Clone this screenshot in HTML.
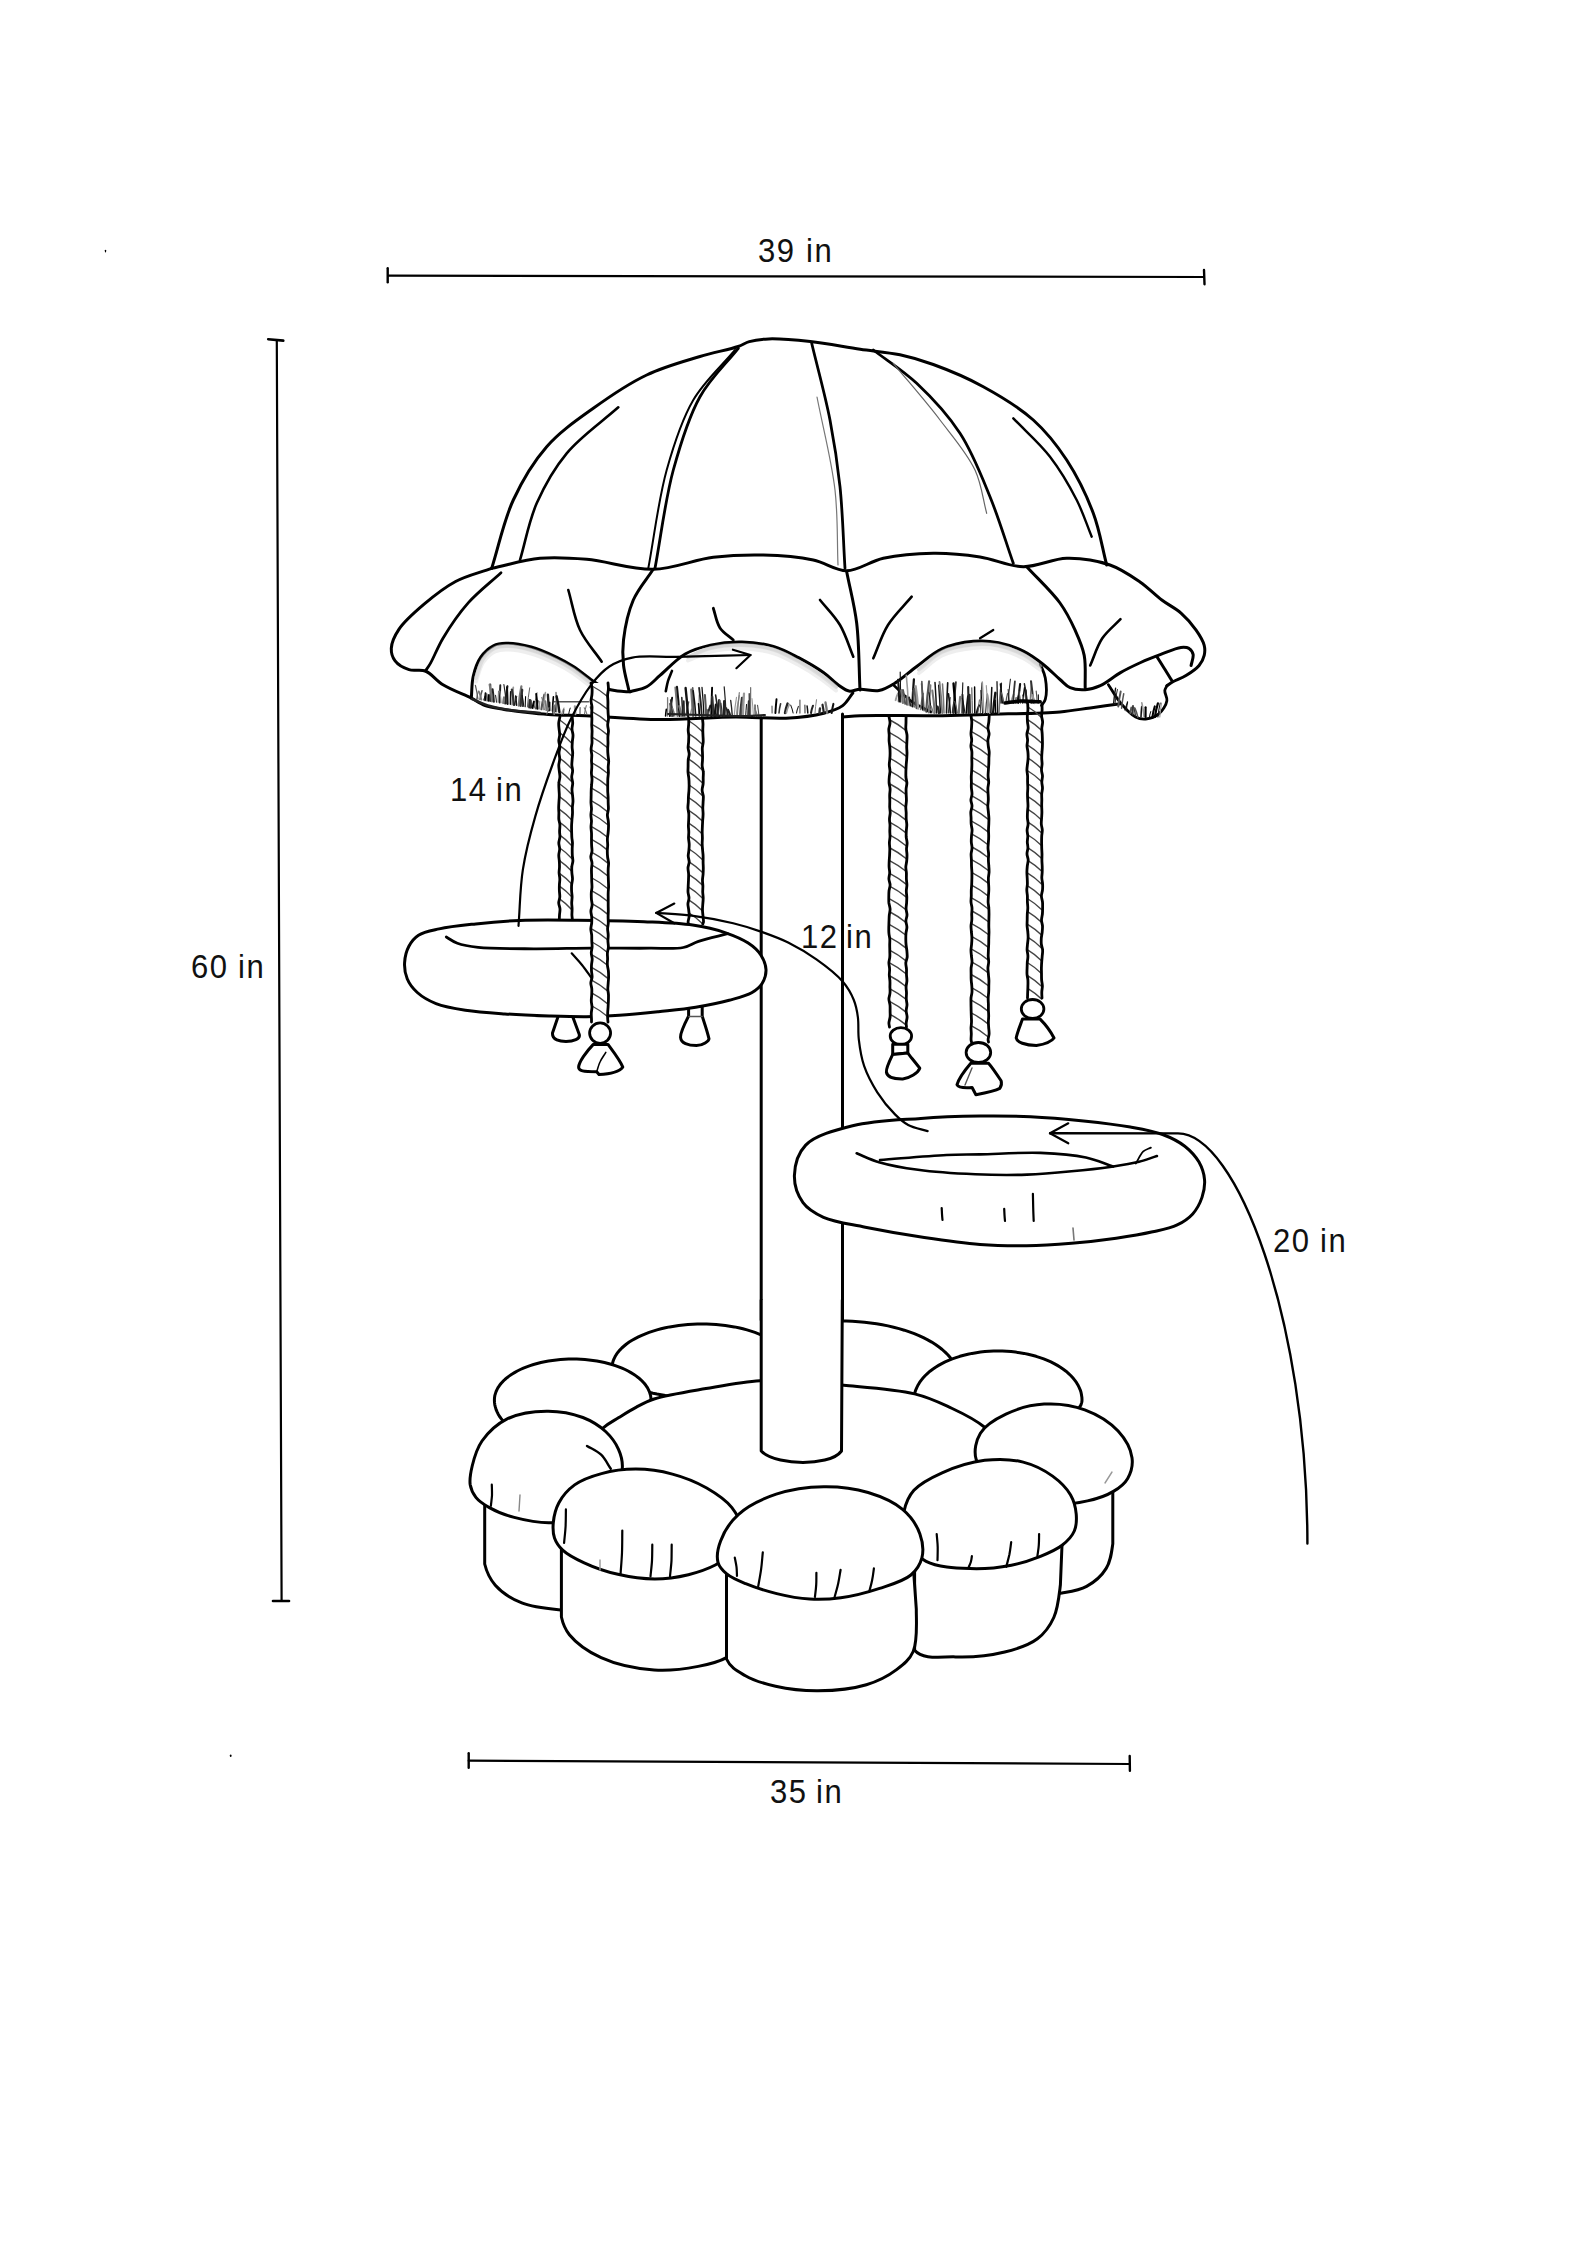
<!DOCTYPE html>
<html><head><meta charset="utf-8"><style>
html,body{margin:0;padding:0;background:#fff;}
body{width:1587px;height:2245px;position:relative;overflow:hidden;}
svg{position:absolute;left:0;top:0;}
.t{position:absolute;font-family:"Liberation Sans",sans-serif;color:#111;white-space:nowrap;line-height:1;}
</style></head><body>
<svg width="1587" height="2245" viewBox="0 0 1587 2245" stroke-linecap="round" stroke-linejoin="round">
<path d="M388.0,275.7 L1204.0,277.0" stroke="#000" stroke-width="2.2" fill="none"/>
<path d="M387.7,268.3 L387.7,282.3" stroke="#000" stroke-width="2.4" fill="none"/>
<path d="M1204.0,270.0 L1204.5,284.3" stroke="#000" stroke-width="2.4" fill="none"/>
<path d="M276.8,340.5 L281.6,1601.0" stroke="#000" stroke-width="2.2" fill="none"/>
<path d="M268.2,339.2 L283.3,340.6" stroke="#000" stroke-width="2.6" fill="none"/>
<path d="M273.0,1601.0 L289.0,1601.0" stroke="#000" stroke-width="2.6" fill="none"/>
<path d="M468.7,1760.7 L1129.7,1764.0" stroke="#000" stroke-width="2.2" fill="none"/>
<path d="M468.7,1753.3 L468.7,1767.7" stroke="#000" stroke-width="2.4" fill="none"/>
<path d="M1129.7,1756.0 L1129.9,1770.7" stroke="#000" stroke-width="2.4" fill="none"/>
<path d="M105.5,250.3 L105.5,251.8" stroke="#000" stroke-width="1.2" fill="none"/>
<path d="M230.7,1755.2 L230.7,1756.2" stroke="#000" stroke-width="1.6" fill="none"/>
<path d="M491.7,568.3C498.9,545.5 503.7,520.8 513.3,500.0C522.3,480.5 533.2,462.1 546.7,446.7C559.9,431.6 576.8,420.1 593.3,408.3C610.1,396.2 628.4,383.7 646.7,375.0C664.0,366.7 683.6,361.5 700.0,356.5C713.7,352.3 729.4,349.6 738.2,346.5C743.1,344.8 745.0,342.8 749.3,341.6C754.8,340.0 761.0,339.2 768.7,338.9C779.9,338.5 795.8,340.0 810.3,341.6C826.2,343.3 844.5,347.0 860.2,349.3C874.2,351.3 887.4,352.1 900.0,354.8C911.7,357.3 921.2,360.1 933.3,364.5C948.4,370.0 967.0,377.7 983.3,386.7C1000.4,396.1 1019.1,407.2 1033.3,420.0C1046.6,431.9 1056.9,445.1 1066.7,460.0C1077.1,476.0 1086.6,495.3 1093.3,513.3C1099.7,530.3 1102.2,547.8 1106.7,565.0" stroke="#000" stroke-width="3" fill="none"/>
<path d="M618.3,407.3C601.1,422.6 580.6,436.5 566.7,453.3C553.9,468.7 544.5,485.6 536.7,503.3C528.9,521.1 525.6,541.1 520.0,560.0" stroke="#000" stroke-width="2.6" fill="none"/>
<path d="M735.0,350.0C721.1,366.7 704.5,380.9 693.3,400.0C681.3,420.5 673.9,444.3 666.7,470.0C658.4,499.7 654.4,535.5 648.3,568.3" stroke="#000" stroke-width="2.0" fill="none"/>
<path d="M738.3,348.3C725.5,364.4 710.5,377.9 700.0,396.7C688.2,417.8 680.6,443.5 673.3,470.0C665.1,500.1 661.1,535.5 655.0,568.3" stroke="#000" stroke-width="2.8" fill="none"/>
<path d="M811.7,343.3C817.8,368.9 825.2,395.2 830.0,420.0C834.4,442.9 837.5,463.3 840.0,486.7C842.7,512.5 843.3,541.1 845.0,568.3" stroke="#000" stroke-width="2.8" fill="none"/>
<path d="M817.0,397.0C823.0,428.0 831.6,460.5 835.0,490.0C838.0,516.2 837.0,540.0 838.0,565.0" stroke="#777" stroke-width="1.2" fill="none"/>
<path d="M873.3,350.0C887.8,361.1 902.9,370.3 916.7,383.3C931.9,397.6 947.9,414.7 960.0,433.3C972.5,452.4 981.1,475.1 990.0,496.7C998.9,518.4 1005.5,541.1 1013.3,563.3" stroke="#000" stroke-width="2.8" fill="none"/>
<path d="M893.3,363.3C908.9,382.2 925.9,401.4 940.0,420.0C952.9,436.9 967.2,453.2 975.0,470.0C981.7,484.4 982.8,498.9 986.7,513.3" stroke="#666" stroke-width="1.2" fill="none"/>
<path d="M1013.3,418.3C1025.5,431.1 1039.4,442.9 1050.0,456.7C1060.4,470.2 1069.5,485.9 1076.7,500.0C1083.0,512.5 1086.7,524.5 1091.7,536.7" stroke="#000" stroke-width="2.4" fill="none"/>
<path d="M491.7,568.3C507.8,565.0 524.0,559.8 540.0,558.3C555.6,556.9 569.8,557.9 586.7,559.3C607.0,561.0 631.7,569.8 653.3,569.3C673.9,568.8 694.1,559.6 713.3,557.3C730.6,555.2 746.6,554.6 763.3,555.0C780.0,555.4 798.5,556.9 813.3,560.0C825.7,562.6 835.3,570.8 846.7,570.7C858.6,570.6 870.0,561.2 883.3,558.3C898.5,555.0 916.9,553.5 933.3,553.3C949.1,553.1 964.8,554.7 980.0,557.0C994.8,559.2 1008.8,566.5 1023.3,566.7C1037.7,566.9 1052.2,558.6 1066.7,558.3C1081.1,558.0 1097.2,560.6 1110.0,565.0C1121.3,568.9 1131.0,575.8 1140.0,582.0C1148.1,587.6 1154.6,594.6 1161.8,600.0C1168.3,604.9 1175.3,608.0 1181.0,613.1C1186.7,618.1 1192.1,624.4 1196.1,630.2C1199.6,635.2 1203.0,640.7 1204.2,645.4C1205.1,649.0 1205.0,652.1 1204.2,655.4C1203.4,658.9 1201.7,662.4 1199.1,665.5C1196.0,669.3 1190.5,672.8 1186.0,675.6C1181.8,678.2 1176.4,679.8 1172.9,681.7C1170.5,683.1 1168.9,684.4 1166.9,685.7" stroke="#000" stroke-width="3" fill="none"/>
<path d="M491.7,568.3C479.7,572.7 466.8,575.5 455.6,581.5C444.3,587.5 433.7,596.0 424.1,604.2C414.9,612.0 404.4,621.0 398.9,629.4C394.7,635.7 391.6,642.6 391.3,648.3C391.1,652.9 392.5,657.4 395.1,660.9C398.0,664.8 403.9,668.0 409.0,669.7C414.0,671.4 420.1,668.9 425.4,671.0C431.5,673.4 436.2,680.6 443.0,684.8C451.1,689.8 461.9,693.6 471.3,698.0" stroke="#000" stroke-width="3" fill="none"/>
<path d="M501.0,572.7C490.1,582.8 477.9,591.9 468.2,602.9C458.6,613.8 449.6,627.2 443.0,638.2C437.7,647.1 433.8,657.5 430.4,663.4C428.5,666.7 427.1,668.5 425.4,671.0" stroke="#000" stroke-width="2.8" fill="none"/>
<path d="M471.3,698.0C472.0,690.7 471.6,682.9 473.3,676.0C474.9,669.3 477.2,662.3 480.8,657.1C484.1,652.4 488.9,648.1 493.4,645.8C497.3,643.8 501.1,643.4 506.0,643.3C512.9,643.1 522.9,644.8 531.2,647.0C539.7,649.3 548.9,653.6 556.4,657.1C562.7,660.1 567.7,662.9 573.4,666.5C579.7,670.5 586.6,676.6 592.3,680.4C596.8,683.4 600.6,686.2 604.9,688.0C609.0,689.7 613.3,690.5 617.5,691.1C621.7,691.7 625.9,691.6 630.1,691.8" stroke="#000" stroke-width="3" fill="none"/>
<path d="M653.3,569.3C646.6,579.5 638.2,588.6 633.3,600.0C628.1,612.1 624.9,628.1 623.5,640.0C622.4,649.2 622.6,656.7 623.5,665.0C624.4,673.5 627.1,682.0 628.9,690.5" stroke="#000" stroke-width="3" fill="none"/>
<path d="M630.1,691.8C635.6,690.1 641.7,689.4 646.7,686.7C651.7,684.0 654.9,679.8 660.0,675.4C667.1,669.4 676.3,659.1 685.2,654.0C693.2,649.4 701.4,647.1 710.4,645.1C720.2,642.9 731.4,641.8 741.9,642.0C752.4,642.2 763.7,643.6 773.4,646.4C782.5,649.0 790.3,653.4 798.6,657.7C807.1,662.2 816.6,667.7 823.8,672.8C829.7,677.0 834.3,682.3 839.0,685.5C842.6,688.0 845.5,690.5 849.0,691.1C852.5,691.7 855.8,689.4 860.0,689.2C865.4,688.9 873.0,691.6 878.9,690.5C884.7,689.4 889.7,686.3 895.3,682.9C902.2,678.7 909.2,672.0 916.7,666.5C924.7,660.6 932.6,653.1 941.9,648.9C951.4,644.6 963.4,642.2 973.4,641.3C982.2,640.5 990.3,641.0 998.6,642.6C1007.1,644.3 1016.2,647.6 1023.8,651.4C1030.8,654.9 1036.7,659.3 1042.7,664.0C1048.8,668.7 1055.0,675.2 1060.0,679.5C1063.8,682.7 1066.1,686.0 1070.1,687.7C1074.4,689.6 1080.2,690.0 1085.2,689.7C1090.3,689.4 1095.1,688.0 1100.3,685.7C1106.8,682.8 1113.7,676.5 1120.5,672.6C1127.1,668.8 1133.9,665.6 1140.7,662.5C1147.3,659.5 1154.1,656.9 1160.8,654.4C1167.5,651.9 1175.7,648.0 1181.0,647.4C1184.2,647.1 1187.0,647.2 1189.0,648.4C1190.9,649.6 1192.6,652.0 1193.1,654.4C1193.7,657.4 1191.8,661.8 1191.1,665.5" stroke="#000" stroke-width="3" fill="none"/>
<path d="M846.7,571.7C850.0,588.9 854.5,604.9 856.7,623.3C859.2,644.0 858.9,667.8 860.0,690.0" stroke="#000" stroke-width="3" fill="none"/>
<path d="M1026.7,566.7C1037.8,578.8 1051.6,591.3 1060.0,603.0C1066.7,612.3 1071.0,621.1 1075.1,630.2C1078.9,638.6 1082.5,646.3 1084.2,655.4C1086.1,665.4 1084.9,676.9 1085.2,687.7" stroke="#000" stroke-width="3" fill="none"/>
<path d="M568.3,590.0C572.2,603.3 574.2,617.9 580.0,630.0C585.5,641.7 594.5,651.1 601.7,661.7" stroke="#000" stroke-width="2.6" fill="none"/>
<path d="M713.3,608.3C715.5,614.9 716.4,622.6 720.0,628.0C723.3,633.0 728.9,636.0 733.3,640.0" stroke="#000" stroke-width="2.8" fill="none"/>
<path d="M820.0,600.0C826.7,608.3 834.5,615.8 840.0,625.0C845.7,634.6 848.9,646.1 853.3,656.7" stroke="#000" stroke-width="2.6" fill="none"/>
<path d="M911.7,596.7C903.8,606.1 894.4,614.7 888.0,625.0C881.6,635.2 878.2,647.2 873.3,658.3" stroke="#000" stroke-width="2.6" fill="none"/>
<path d="M993.3,630.0L980.0,638.3" stroke="#000" stroke-width="2.2" fill="none"/>
<path d="M1120.5,619.2C1114.4,625.6 1107.3,630.9 1102.3,638.3C1097.0,646.2 1094.2,656.4 1090.2,665.5" stroke="#000" stroke-width="2.6" fill="none"/>
<path d="M672.0,670.9C670.7,674.3 669.0,677.6 668.0,681.0C667.0,684.4 666.5,687.8 665.8,691.2" stroke="#000" stroke-width="2.6" fill="none"/>
<path d="M894.0,685.5C899.5,690.5 904.4,696.2 910.4,700.6C916.5,705.1 923.9,708.1 930.6,711.9" stroke="#000" stroke-width="2.6" fill="none"/>
<path d="M1040.2,664.0C1041.9,668.6 1044.4,672.7 1045.3,677.9C1046.4,684.2 1046.7,694.4 1045.3,699.3C1044.5,702.2 1042.8,703.5 1041.5,705.6" stroke="#000" stroke-width="2.8" fill="none"/>
<path d="M1156.8,656.5C1159.2,660.3 1161.5,664.1 1164.0,668.0C1166.6,672.1 1169.3,676.5 1171.9,680.7" stroke="#000" stroke-width="3" fill="none"/>
<path d="M1108.4,684.7C1112.4,690.7 1115.9,697.4 1120.5,702.8C1125.0,708.1 1130.7,714.5 1135.6,717.0C1139.0,718.8 1142.2,719.3 1145.7,719.0C1149.8,718.6 1155.3,716.8 1158.8,713.9C1162.5,710.9 1166.2,705.0 1166.9,700.8C1167.5,697.3 1164.5,693.4 1164.8,690.7C1165.0,688.7 1166.2,687.4 1166.9,685.7" stroke="#000" stroke-width="2.8" fill="none"/>
<path d="M471.3,698.0C475.9,700.5 480.1,703.7 485.2,705.6C490.9,707.7 497.8,708.3 504.1,709.4C510.4,710.4 516.2,711.1 523.0,711.9C530.8,712.8 538.9,713.8 548.2,714.4C559.5,715.2 571.3,715.1 586.0,715.7C606.6,716.6 635.2,719.3 660.0,719.5C685.1,719.7 712.9,717.1 735.6,717.0C754.1,716.9 770.4,719.0 786.0,718.2C799.5,717.5 813.5,715.9 823.8,713.2C831.3,711.2 837.7,709.3 842.7,705.6C847.1,702.3 849.4,697.2 852.8,693.0" stroke="#000" stroke-width="3" fill="none"/>
<path d="M842.7,717.0C848.5,716.6 852.2,716.0 860.0,715.7C876.3,715.1 912.9,716.0 935.6,715.7C954.1,715.5 967.6,714.9 986.0,714.4C1008.3,713.7 1040.8,713.5 1060.0,711.9C1072.3,710.9 1080.1,709.2 1090.2,707.9C1100.3,706.5 1110.4,705.2 1120.5,703.8" stroke="#000" stroke-width="3" fill="none"/>
<path d="M554.5,701.8L588.5,701.8" stroke="#555" stroke-width="1.6" fill="none"/>
<path d="M476.0,678.0C478.3,671.7 479.5,664.2 483.0,659.0C486.1,654.4 490.8,650.1 495.0,648.0C498.5,646.3 501.6,646.0 506.0,646.0C512.6,645.9 522.8,647.7 531.0,650.0C539.5,652.3 548.6,656.5 556.0,660.0C562.3,663.0 567.5,665.9 573.0,669.5C578.8,673.3 584.3,678.2 590.0,682.5" stroke="#bdbdbd" stroke-width="4" fill="none" opacity="0.6"/>
<path d="M476.0,681.5C478.3,675.2 479.5,667.7 483.0,662.5C486.1,657.9 490.8,653.6 495.0,651.5C498.5,649.8 501.6,649.5 506.0,649.5C512.6,649.4 522.8,651.2 531.0,653.5C539.5,655.8 548.6,660.0 556.0,663.5C562.3,666.5 567.5,669.4 573.0,673.0C578.8,676.8 584.3,681.7 590.0,686.0" stroke="#e2e2e2" stroke-width="4" fill="none" opacity="0.6"/>
<path d="M688.0,657.0C695.7,654.0 702.6,650.0 711.0,648.0C720.4,645.7 731.7,644.8 742.0,645.0C752.3,645.2 763.4,646.7 773.0,649.5C782.0,652.2 789.9,656.6 798.0,661.0C806.2,665.4 815.2,671.2 822.0,676.0C827.4,679.8 831.3,683.3 836.0,687.0" stroke="#bdbdbd" stroke-width="4" fill="none" opacity="0.6"/>
<path d="M688.0,660.5C695.7,657.5 702.6,653.5 711.0,651.5C720.4,649.2 731.7,648.3 742.0,648.5C752.3,648.7 763.4,650.2 773.0,653.0C782.0,655.7 789.9,660.1 798.0,664.5C806.2,668.9 815.2,674.7 822.0,679.5C827.4,683.3 831.3,686.8 836.0,690.5" stroke="#e2e2e2" stroke-width="4" fill="none" opacity="0.6"/>
<path d="M919.0,669.5C926.7,663.7 933.3,656.1 942.0,652.0C951.2,647.6 963.2,645.5 973.0,644.5C981.7,643.6 989.8,643.9 998.0,645.5C1006.5,647.2 1015.7,650.8 1023.0,654.5C1029.4,657.8 1034.3,662.2 1040.0,666.0" stroke="#bdbdbd" stroke-width="4" fill="none" opacity="0.6"/>
<path d="M919.0,673.0C926.7,667.2 933.3,659.6 942.0,655.5C951.2,651.1 963.2,649.0 973.0,648.0C981.7,647.1 989.8,647.4 998.0,649.0C1006.5,650.7 1015.7,654.3 1023.0,658.0C1029.4,661.3 1034.3,665.7 1040.0,669.5" stroke="#e2e2e2" stroke-width="4" fill="none" opacity="0.6"/>
<path d="M476.4,698.9Q477.0,695.2 478.3,691.6" stroke="#777" stroke-width="0.9724296354402185" fill="none"/>
<path d="M477.9,699.1Q477.1,692.2 475.4,685.4" stroke="#555" stroke-width="1.2220472712534927" fill="none"/>
<path d="M480.0,699.4Q480.6,695.1 482.0,690.8" stroke="#555" stroke-width="1.536778783713771" fill="none"/>
<path d="M481.4,699.7Q480.6,695.5 478.8,691.3" stroke="#777" stroke-width="1.774495356690611" fill="none"/>
<path d="M483.7,700.0Q484.4,697.2 485.9,694.3" stroke="#111" stroke-width="0.9698740209266344" fill="none"/>
<path d="M485.1,700.3Q485.2,696.7 485.5,693.1" stroke="#000" stroke-width="1.7563705344701015" fill="none"/>
<path d="M487.3,700.6Q487.1,697.3 486.6,694.1" stroke="#555" stroke-width="1.858370203389276" fill="none"/>
<path d="M488.9,700.9Q488.9,697.9 488.9,694.9" stroke="#000" stroke-width="1.8285143897603309" fill="none"/>
<path d="M490.7,701.1Q490.6,692.8 490.4,684.5" stroke="#333" stroke-width="1.778342795261458" fill="none"/>
<path d="M492.1,701.4Q491.4,692.9 489.6,684.5" stroke="#777" stroke-width="2.0697444458763656" fill="none"/>
<path d="M493.9,701.7Q493.5,695.4 492.6,689.2" stroke="#222" stroke-width="1.9941679341588263" fill="none"/>
<path d="M496.5,702.1Q496.2,698.7 495.5,695.3" stroke="#333" stroke-width="1.14744315546536" fill="none"/>
<path d="M498.1,702.3Q498.2,696.7 498.5,691.0" stroke="#777" stroke-width="1.0164307232711933" fill="none"/>
<path d="M499.7,702.6Q499.9,694.0 500.3,685.3" stroke="#222" stroke-width="1.9429430494104891" fill="none"/>
<path d="M501.2,702.8Q500.8,696.9 499.8,691.0" stroke="#999" stroke-width="1.0403939941303555" fill="none"/>
<path d="M503.1,703.1Q503.4,700.1 504.0,697.2" stroke="#777" stroke-width="1.952238031956636" fill="none"/>
<path d="M505.2,703.5Q505.9,694.8 507.5,686.1" stroke="#222" stroke-width="1.9749416915974556" fill="none"/>
<path d="M506.2,703.6Q505.5,694.1 503.9,684.5" stroke="#222" stroke-width="1.152072568359817" fill="none"/>
<path d="M507.6,703.9Q507.4,695.6 507.0,687.3" stroke="#111" stroke-width="2.007545069392191" fill="none"/>
<path d="M510.4,704.3Q510.5,698.1 510.7,691.9" stroke="#111" stroke-width="1.5737811014239966" fill="none"/>
<path d="M512.1,704.6Q512.5,695.9 513.3,687.3" stroke="#999" stroke-width="1.7253293292047949" fill="none"/>
<path d="M514.0,704.9Q513.3,697.3 511.9,689.6" stroke="#333" stroke-width="2.336596805945987" fill="none"/>
<path d="M514.7,705.0Q515.3,700.8 516.7,696.5" stroke="#111" stroke-width="0.9180945897656982" fill="none"/>
<path d="M516.5,705.3Q516.2,700.7 515.7,696.0" stroke="#111" stroke-width="1.5284197516879918" fill="none"/>
<path d="M518.7,705.6Q519.5,696.0 521.4,686.3" stroke="#777" stroke-width="2.1888029238077786" fill="none"/>
<path d="M520.6,705.9Q521.1,697.9 522.2,689.8" stroke="#333" stroke-width="2.2492995150869284" fill="none"/>
<path d="M522.6,706.3Q522.4,697.8 521.9,689.3" stroke="#333" stroke-width="1.4971044458334761" fill="none"/>
<path d="M523.8,706.5Q523.3,701.0 522.1,695.4" stroke="#111" stroke-width="1.0010214237645374" fill="none"/>
<path d="M525.2,706.7Q525.3,701.6 525.6,696.6" stroke="#000" stroke-width="1.0535693965878332" fill="none"/>
<path d="M527.4,707.0Q528.1,697.4 529.7,687.8" stroke="#555" stroke-width="0.9382513299992186" fill="none"/>
<path d="M529.3,707.3Q529.4,703.7 529.9,700.1" stroke="#222" stroke-width="2.333202035882207" fill="none"/>
<path d="M530.8,707.6Q530.8,704.2 530.6,700.8" stroke="#333" stroke-width="2.3896540825570707" fill="none"/>
<path d="M532.6,707.9Q533.0,704.7 534.0,701.6" stroke="#000" stroke-width="2.0245108806636463" fill="none"/>
<path d="M534.3,708.1Q535.1,700.4 537.0,692.8" stroke="#555" stroke-width="0.9346435815678722" fill="none"/>
<path d="M536.1,708.4Q536.6,704.8 537.7,701.2" stroke="#555" stroke-width="2.2712186741870917" fill="none"/>
<path d="M537.6,708.7Q537.2,701.3 536.2,694.0" stroke="#000" stroke-width="1.9442951788617027" fill="none"/>
<path d="M539.4,709.0Q539.5,705.2 539.7,701.4" stroke="#999" stroke-width="1.2341891340828581" fill="none"/>
<path d="M541.4,709.3Q542.2,702.0 544.3,694.7" stroke="#555" stroke-width="2.1172668701603925" fill="none"/>
<path d="M543.5,709.6Q544.1,701.1 545.4,692.5" stroke="#999" stroke-width="1.5010265544787758" fill="none"/>
<path d="M544.5,709.8Q543.6,703.6 541.7,697.4" stroke="#777" stroke-width="0.9434702261120481" fill="none"/>
<path d="M546.3,710.1Q546.1,705.6 545.4,701.2" stroke="#777" stroke-width="1.8077085475234136" fill="none"/>
<path d="M548.7,710.4Q548.5,702.5 547.9,694.6" stroke="#222" stroke-width="2.332500946982" fill="none"/>
<path d="M549.8,710.6Q549.7,706.4 549.7,702.2" stroke="#111" stroke-width="1.4066062197577955" fill="none"/>
<path d="M552.5,711.0Q552.7,704.0 553.4,696.9" stroke="#000" stroke-width="1.6192101393923073" fill="none"/>
<path d="M554.0,711.3Q553.8,708.1 553.3,705.0" stroke="#777" stroke-width="1.0798554462542065" fill="none"/>
<path d="M555.6,711.5Q555.9,707.5 556.4,703.5" stroke="#111" stroke-width="1.5508876136221226" fill="none"/>
<path d="M556.6,711.7Q556.4,702.1 556.0,692.5" stroke="#777" stroke-width="1.4937577426041724" fill="none"/>
<path d="M559.4,712.1Q558.6,704.2 556.6,696.3" stroke="#111" stroke-width="2.3896685346257502" fill="none"/>
<path d="M472.0,699.0C478.0,701.3 483.8,704.2 490.0,706.0C496.4,707.9 502.6,708.9 510.0,710.0C519.0,711.3 530.0,712.0 540.0,713.0" stroke="#222" stroke-width="2.5" fill="none"/>
<path d="M546.9,714.0Q547.5,710.9 548.9,707.7" stroke="#777" stroke-width="1.1192614631158113" fill="none"/>
<path d="M552.7,714.0Q552.8,710.2 553.0,706.4" stroke="#222" stroke-width="1.1338686385973546" fill="none"/>
<path d="M554.2,714.0Q554.3,709.7 554.4,705.4" stroke="#777" stroke-width="1.8745120045107457" fill="none"/>
<path d="M561.7,714.0Q562.4,711.0 564.0,708.0" stroke="#999" stroke-width="1.1922081629874772" fill="none"/>
<path d="M563.4,714.0Q563.6,711.8 563.9,709.5" stroke="#555" stroke-width="1.2608090888375019" fill="none"/>
<path d="M568.7,714.0Q569.2,711.0 570.2,708.1" stroke="#111" stroke-width="0.9913567868249533" fill="none"/>
<path d="M575.4,714.0Q575.2,710.2 574.9,706.4" stroke="#999" stroke-width="2.2564451618130597" fill="none"/>
<path d="M580.0,714.0Q580.0,710.7 580.1,707.5" stroke="#555" stroke-width="1.1277545763944081" fill="none"/>
<path d="M584.5,714.0Q585.0,709.8 586.3,705.6" stroke="#555" stroke-width="0.905898722738463" fill="none"/>
<path d="M586.8,714.0Q586.0,710.8 584.2,707.7" stroke="#777" stroke-width="1.080504916866969" fill="none"/>
<path d="M593.0,714.0Q592.3,710.6 590.7,707.3" stroke="#333" stroke-width="2.076408713048213" fill="none"/>
<path d="M597.2,714.0Q596.5,711.6 594.8,709.3" stroke="#222" stroke-width="0.963298342066941" fill="none"/>
<path d="M665.6,716.0Q665.8,712.7 666.3,709.3" stroke="#000" stroke-width="1.5648725903661584" fill="none"/>
<path d="M667.6,716.0Q667.6,706.9 667.6,697.7" stroke="#777" stroke-width="1.3157783104368947" fill="none"/>
<path d="M669.9,716.0Q670.6,706.9 672.1,697.8" stroke="#111" stroke-width="1.9488268232704287" fill="none"/>
<path d="M672.0,716.0Q671.4,709.9 670.2,703.8" stroke="#555" stroke-width="2.239132412634049" fill="none"/>
<path d="M673.2,716.0Q672.4,708.0 670.6,700.0" stroke="#333" stroke-width="1.5631771324125654" fill="none"/>
<path d="M674.8,716.0Q674.1,712.1 672.6,708.2" stroke="#777" stroke-width="1.354170112877369" fill="none"/>
<path d="M677.4,716.0Q676.8,701.7 675.3,687.5" stroke="#777" stroke-width="1.8903847727870562" fill="none"/>
<path d="M679.5,716.0Q678.7,701.4 677.0,686.8" stroke="#111" stroke-width="2.020023138290317" fill="none"/>
<path d="M681.4,716.0Q680.8,711.0 679.3,706.1" stroke="#777" stroke-width="2.1486670042244214" fill="none"/>
<path d="M682.7,716.0Q682.4,706.8 681.8,697.6" stroke="#222" stroke-width="1.531914710950978" fill="none"/>
<path d="M684.1,716.0Q684.0,708.6 683.8,701.2" stroke="#222" stroke-width="1.731075371712492" fill="none"/>
<path d="M685.9,716.0Q686.8,709.0 688.7,702.0" stroke="#555" stroke-width="1.343181166562389" fill="none"/>
<path d="M688.0,716.0Q687.2,702.0 685.6,688.0" stroke="#111" stroke-width="2.357543937970611" fill="none"/>
<path d="M690.1,716.0Q690.5,712.5 691.6,709.0" stroke="#999" stroke-width="1.1723270871167566" fill="none"/>
<path d="M692.7,716.0Q692.3,702.8 691.2,689.6" stroke="#777" stroke-width="2.1284684696719225" fill="none"/>
<path d="M693.7,716.0Q693.4,702.0 692.7,687.9" stroke="#555" stroke-width="1.6419180650310676" fill="none"/>
<path d="M695.8,716.0Q695.0,703.4 693.2,690.8" stroke="#111" stroke-width="1.537975561193584" fill="none"/>
<path d="M698.5,716.0Q698.7,705.4 699.2,694.8" stroke="#999" stroke-width="1.2908278280914856" fill="none"/>
<path d="M699.5,716.0Q699.2,709.8 698.5,703.7" stroke="#000" stroke-width="1.5806602814593873" fill="none"/>
<path d="M701.8,716.0Q701.0,701.9 699.1,687.8" stroke="#222" stroke-width="1.8325551814871819" fill="none"/>
<path d="M703.9,716.0Q703.4,701.7 702.0,687.5" stroke="#111" stroke-width="1.2928429378239032" fill="none"/>
<path d="M706.1,716.0Q705.8,705.5 704.9,694.9" stroke="#555" stroke-width="2.039247382497842" fill="none"/>
<path d="M707.5,716.0Q708.4,710.9 710.4,705.7" stroke="#222" stroke-width="2.105518417263364" fill="none"/>
<path d="M708.7,716.0Q708.2,712.8 706.9,709.6" stroke="#555" stroke-width="1.7265736920168804" fill="none"/>
<path d="M711.2,716.0Q711.5,701.8 712.1,687.6" stroke="#000" stroke-width="1.8874804819254591" fill="none"/>
<path d="M713.4,716.0Q713.0,706.4 712.2,696.9" stroke="#333" stroke-width="2.3554685969652898" fill="none"/>
<path d="M714.7,716.0Q715.1,710.2 715.9,704.5" stroke="#111" stroke-width="2.1484298148966743" fill="none"/>
<path d="M717.1,716.0Q717.8,708.1 719.2,700.3" stroke="#222" stroke-width="2.3728228977440504" fill="none"/>
<path d="M718.2,716.0Q717.4,705.5 715.6,695.0" stroke="#222" stroke-width="1.5461110617583227" fill="none"/>
<path d="M721.0,716.0Q720.6,708.4 719.7,700.9" stroke="#555" stroke-width="1.9058149468630177" fill="none"/>
<path d="M722.3,716.0Q721.9,709.5 720.9,703.0" stroke="#333" stroke-width="1.1780280428849115" fill="none"/>
<path d="M723.9,716.0Q724.0,708.6 724.2,701.3" stroke="#222" stroke-width="2.3589344969195642" fill="none"/>
<path d="M726.1,716.0Q725.6,701.4 724.2,686.8" stroke="#222" stroke-width="1.226798785737722" fill="none"/>
<path d="M728.1,716.0Q727.6,712.0 726.4,708.0" stroke="#222" stroke-width="1.6541460095645995" fill="none"/>
<path d="M730.3,716.0Q729.6,712.9 728.1,709.9" stroke="#222" stroke-width="2.1255664217071986" fill="none"/>
<path d="M732.3,716.0Q731.8,708.3 730.7,700.5" stroke="#222" stroke-width="1.3563668403365077" fill="none"/>
<path d="M734.2,716.0Q734.9,706.6 736.5,697.3" stroke="#999" stroke-width="1.132878211783733" fill="none"/>
<path d="M736.3,716.0Q737.2,705.8 739.3,695.7" stroke="#999" stroke-width="1.3892021311895242" fill="none"/>
<path d="M737.4,716.0Q738.0,704.3 739.3,692.6" stroke="#777" stroke-width="1.1171283182925142" fill="none"/>
<path d="M740.1,716.0Q740.6,706.8 741.9,697.7" stroke="#333" stroke-width="2.000778185215443" fill="none"/>
<path d="M741.2,716.0Q741.7,706.7 743.1,697.4" stroke="#555" stroke-width="1.7527192492217303" fill="none"/>
<path d="M742.9,716.0Q743.3,704.8 744.0,693.5" stroke="#999" stroke-width="2.2392446046082615" fill="none"/>
<path d="M745.7,716.0Q746.0,710.2 746.5,704.5" stroke="#000" stroke-width="0.9627931520315989" fill="none"/>
<path d="M748.0,716.0Q748.2,708.5 748.7,701.0" stroke="#333" stroke-width="1.7377908697439022" fill="none"/>
<path d="M749.4,716.0Q749.4,704.8 749.2,693.7" stroke="#333" stroke-width="1.2956893422079943" fill="none"/>
<path d="M750.6,716.0Q750.6,701.8 750.7,687.6" stroke="#555" stroke-width="1.0379128917228373" fill="none"/>
<path d="M753.4,716.0Q753.0,707.3 752.0,698.6" stroke="#999" stroke-width="1.0116749999612602" fill="none"/>
<path d="M755.3,716.0Q755.2,710.5 755.0,705.1" stroke="#777" stroke-width="1.8748984200030763" fill="none"/>
<path d="M757.3,716.0Q756.5,712.1 754.6,708.2" stroke="#777" stroke-width="1.3309787500683603" fill="none"/>
<path d="M758.9,716.0Q758.5,710.6 757.5,705.2" stroke="#555" stroke-width="1.121137609315361" fill="none"/>
<path d="M668.0,714.0C678.7,714.3 688.7,714.7 700.0,715.0C712.6,715.4 728.2,716.1 740.0,716.0C749.3,715.9 756.7,715.3 765.0,715.0" stroke="#222" stroke-width="2" fill="none"/>
<path d="M772.1,713.0Q772.1,709.5 772.0,706.0" stroke="#555" stroke-width="1.1001615130804763" fill="none"/>
<path d="M775.4,713.0Q775.8,706.1 776.5,699.3" stroke="#000" stroke-width="1.9382777588556719" fill="none"/>
<path d="M779.0,713.0Q779.4,708.4 780.6,703.8" stroke="#333" stroke-width="1.5988464124464148" fill="none"/>
<path d="M785.0,713.0Q785.8,708.3 787.6,703.5" stroke="#222" stroke-width="2.3671886051355404" fill="none"/>
<path d="M786.3,713.0Q787.2,708.7 789.3,704.4" stroke="#999" stroke-width="1.6599277716291128" fill="none"/>
<path d="M793.1,713.0Q792.4,709.1 790.7,705.1" stroke="#111" stroke-width="1.0119193015412133" fill="none"/>
<path d="M796.5,713.0Q797.1,709.7 798.4,706.4" stroke="#222" stroke-width="1.098907609321539" fill="none"/>
<path d="M799.9,713.0Q799.9,706.6 799.9,700.1" stroke="#777" stroke-width="1.447782788776423" fill="none"/>
<path d="M805.0,713.0Q805.0,709.0 804.9,705.1" stroke="#111" stroke-width="0.9053857075045955" fill="none"/>
<path d="M807.8,713.0Q807.6,709.5 807.1,706.0" stroke="#111" stroke-width="1.5242717915470914" fill="none"/>
<path d="M811.0,713.0Q811.6,709.3 813.0,705.7" stroke="#222" stroke-width="2.0261010617569752" fill="none"/>
<path d="M815.0,713.0Q815.5,706.4 816.5,699.7" stroke="#777" stroke-width="0.9175824266102153" fill="none"/>
<path d="M819.5,713.0Q819.6,710.7 820.0,708.4" stroke="#333" stroke-width="2.3981887586784203" fill="none"/>
<path d="M823.8,713.0Q823.4,708.9 822.5,704.7" stroke="#222" stroke-width="2.181382900270836" fill="none"/>
<path d="M827.0,713.0Q826.6,707.7 825.5,702.4" stroke="#777" stroke-width="2.303384832466927" fill="none"/>
<path d="M831.7,713.0Q832.2,708.4 833.4,703.9" stroke="#111" stroke-width="2.0597754587234847" fill="none"/>
<path d="M895.6,700.2Q896.3,696.8 898.0,693.5" stroke="#999" stroke-width="1.8463437058036214" fill="none"/>
<path d="M898.1,701.2Q898.9,691.0 900.7,680.9" stroke="#777" stroke-width="1.0208653455541583" fill="none"/>
<path d="M899.3,701.6Q898.9,690.6 898.0,679.6" stroke="#111" stroke-width="1.8667360656277707" fill="none"/>
<path d="M900.7,702.1Q900.5,687.1 900.2,672.0" stroke="#111" stroke-width="1.1561442047974178" fill="none"/>
<path d="M902.9,702.9Q902.4,696.6 901.4,690.3" stroke="#777" stroke-width="2.364444264614781" fill="none"/>
<path d="M905.2,703.8Q904.6,696.9 903.0,690.0" stroke="#555" stroke-width="1.9033139816787217" fill="none"/>
<path d="M907.1,704.5Q907.1,700.5 907.1,696.5" stroke="#555" stroke-width="2.258939865363686" fill="none"/>
<path d="M908.4,705.0Q907.8,690.2 906.3,675.4" stroke="#999" stroke-width="1.5749406653727185" fill="none"/>
<path d="M910.3,705.6Q909.9,701.5 909.2,697.3" stroke="#222" stroke-width="1.7338111313927285" fill="none"/>
<path d="M912.4,706.4Q912.8,692.9 913.9,679.4" stroke="#111" stroke-width="2.23087718881758" fill="none"/>
<path d="M914.3,707.1Q913.9,698.8 912.9,690.4" stroke="#555" stroke-width="1.215007403979441" fill="none"/>
<path d="M916.6,708.0Q915.9,698.5 914.4,689.0" stroke="#555" stroke-width="2.35152789384289" fill="none"/>
<path d="M918.2,708.6Q917.4,697.4 915.7,686.2" stroke="#999" stroke-width="2.172948416500872" fill="none"/>
<path d="M920.6,709.5Q921.4,701.5 923.3,693.5" stroke="#777" stroke-width="1.568787588534914" fill="none"/>
<path d="M922.4,710.1Q922.2,695.8 921.9,681.4" stroke="#000" stroke-width="1.0908705312636884" fill="none"/>
<path d="M924.1,710.8Q923.4,697.3 921.6,683.9" stroke="#555" stroke-width="1.634736543150753" fill="none"/>
<path d="M926.2,711.6Q927.1,696.5 929.1,681.4" stroke="#555" stroke-width="2.183194010721349" fill="none"/>
<path d="M927.2,711.9Q928.1,707.5 930.0,703.1" stroke="#111" stroke-width="1.12810235830805" fill="none"/>
<path d="M928.9,712.5Q929.4,698.8 930.5,685.1" stroke="#777" stroke-width="1.8710221794975008" fill="none"/>
<path d="M931.2,713.0Q930.6,702.8 929.0,692.7" stroke="#000" stroke-width="0.9020490599680537" fill="none"/>
<path d="M933.2,713.0Q932.6,709.5 931.0,706.0" stroke="#777" stroke-width="1.3556733924422586" fill="none"/>
<path d="M934.7,713.0Q934.0,701.7 932.3,690.5" stroke="#777" stroke-width="2.045766076953702" fill="none"/>
<path d="M936.6,713.0Q936.1,697.7 935.0,682.5" stroke="#111" stroke-width="1.4821229211339564" fill="none"/>
<path d="M938.9,713.0Q938.5,709.9 937.6,706.7" stroke="#222" stroke-width="2.394561077587574" fill="none"/>
<path d="M940.4,713.0Q939.9,699.1 938.8,685.2" stroke="#111" stroke-width="1.6129563301013152" fill="none"/>
<path d="M942.2,713.0Q941.4,697.5 939.5,682.0" stroke="#777" stroke-width="1.87447496996147" fill="none"/>
<path d="M944.0,713.0Q943.6,698.5 942.5,684.0" stroke="#777" stroke-width="1.5300238081934907" fill="none"/>
<path d="M946.5,713.0Q946.9,698.0 947.7,682.9" stroke="#111" stroke-width="1.639415176593856" fill="none"/>
<path d="M948.4,713.0Q949.0,705.3 950.2,697.6" stroke="#333" stroke-width="1.1971194573501511" fill="none"/>
<path d="M950.3,713.0Q949.8,703.4 948.5,693.9" stroke="#111" stroke-width="1.6435434196501082" fill="none"/>
<path d="M952.3,713.0Q952.7,707.5 953.8,702.0" stroke="#333" stroke-width="1.2321642197484741" fill="none"/>
<path d="M953.5,713.0Q954.2,697.6 955.9,682.2" stroke="#333" stroke-width="1.815147466815783" fill="none"/>
<path d="M955.6,713.0Q955.0,698.2 953.5,683.3" stroke="#000" stroke-width="2.3231419555261974" fill="none"/>
<path d="M957.4,713.0Q956.6,707.2 954.7,701.5" stroke="#555" stroke-width="1.1128666164210246" fill="none"/>
<path d="M958.8,713.0Q959.2,704.9 960.2,696.8" stroke="#777" stroke-width="2.2253754561491306" fill="none"/>
<path d="M961.9,713.0Q962.2,697.9 962.8,682.8" stroke="#222" stroke-width="1.186025284068795" fill="none"/>
<path d="M963.2,713.0Q963.0,703.9 962.5,694.8" stroke="#222" stroke-width="1.896644795597091" fill="none"/>
<path d="M964.9,713.0Q964.1,705.7 962.3,698.4" stroke="#111" stroke-width="1.0634364500962652" fill="none"/>
<path d="M966.4,713.0Q966.8,704.5 967.9,696.1" stroke="#000" stroke-width="1.7416933711350473" fill="none"/>
<path d="M968.6,713.0Q968.5,700.0 968.2,687.0" stroke="#222" stroke-width="2.1330119736932542" fill="none"/>
<path d="M970.1,713.0Q970.0,703.8 969.7,694.7" stroke="#222" stroke-width="1.7122935546879443" fill="none"/>
<path d="M972.3,713.0Q972.1,700.4 971.8,687.8" stroke="#333" stroke-width="0.9454230826161294" fill="none"/>
<path d="M974.8,713.0Q974.8,700.0 974.6,687.1" stroke="#000" stroke-width="1.4633514899930475" fill="none"/>
<path d="M976.7,713.0Q977.4,709.2 979.1,705.4" stroke="#111" stroke-width="2.02093020673303" fill="none"/>
<path d="M977.9,713.0Q978.4,706.5 979.4,699.9" stroke="#555" stroke-width="0.9653783447538219" fill="none"/>
<path d="M980.3,713.0Q980.7,698.0 981.8,683.0" stroke="#222" stroke-width="0.9056574239012456" fill="none"/>
<path d="M982.5,713.0Q982.0,701.8 980.9,690.5" stroke="#000" stroke-width="0.9363850574122927" fill="none"/>
<path d="M983.7,713.0Q983.3,697.6 982.3,682.1" stroke="#999" stroke-width="1.4797721831850579" fill="none"/>
<path d="M985.6,713.0Q986.1,703.6 987.4,694.2" stroke="#333" stroke-width="1.17440884719087" fill="none"/>
<path d="M987.8,713.0Q987.4,699.3 986.3,685.6" stroke="#999" stroke-width="1.1269728475129703" fill="none"/>
<path d="M989.9,713.0Q989.1,704.0 987.4,695.0" stroke="#999" stroke-width="2.0733729309855065" fill="none"/>
<path d="M990.9,713.0Q991.2,700.2 991.8,687.4" stroke="#111" stroke-width="1.5116351529739762" fill="none"/>
<path d="M993.1,713.0Q993.8,702.9 995.4,692.8" stroke="#111" stroke-width="2.3703836563217" fill="none"/>
<path d="M995.7,713.0Q995.5,706.6 995.2,700.1" stroke="#000" stroke-width="1.2125115606534023" fill="none"/>
<path d="M997.5,713.0Q997.4,697.4 997.0,681.7" stroke="#111" stroke-width="1.2512944482221957" fill="none"/>
<path d="M998.9,713.0Q999.4,701.2 1000.6,689.5" stroke="#777" stroke-width="1.7078468871897505" fill="none"/>
<path d="M1001.0,703.0Q1001.1,693.1 1001.4,683.2" stroke="#222" stroke-width="1.3406732202998948" fill="none"/>
<path d="M1002.3,703.0Q1001.7,693.5 1000.4,684.0" stroke="#111" stroke-width="1.5590966423686123" fill="none"/>
<path d="M1003.9,703.0Q1003.2,697.8 1001.3,692.7" stroke="#555" stroke-width="1.1823752015047289" fill="none"/>
<path d="M1005.8,703.0Q1006.3,698.2 1007.6,693.3" stroke="#555" stroke-width="1.247071416485764" fill="none"/>
<path d="M1008.1,703.0Q1008.8,691.1 1010.4,679.2" stroke="#000" stroke-width="0.9067381502102623" fill="none"/>
<path d="M1009.4,703.0Q1009.0,696.2 1008.1,689.5" stroke="#222" stroke-width="0.9605427981564647" fill="none"/>
<path d="M1011.1,703.0Q1011.8,698.7 1013.6,694.4" stroke="#999" stroke-width="1.774790648305732" fill="none"/>
<path d="M1013.2,703.0Q1013.7,692.3 1014.9,681.5" stroke="#333" stroke-width="1.8045632808649712" fill="none"/>
<path d="M1015.4,703.0Q1015.6,700.4 1016.1,697.9" stroke="#777" stroke-width="1.7942205985230144" fill="none"/>
<path d="M1016.6,703.0Q1017.5,697.0 1019.6,691.0" stroke="#111" stroke-width="0.9662497938123691" fill="none"/>
<path d="M1018.2,703.0Q1018.8,693.5 1020.1,684.1" stroke="#111" stroke-width="2.1221155801197122" fill="none"/>
<path d="M1020.5,703.0Q1020.0,697.0 1018.7,690.9" stroke="#555" stroke-width="1.368293600655363" fill="none"/>
<path d="M1022.8,703.0Q1023.4,695.3 1024.6,687.6" stroke="#000" stroke-width="1.5122550677663211" fill="none"/>
<path d="M1024.5,703.0Q1023.9,699.0 1022.5,695.1" stroke="#555" stroke-width="1.0367288975386884" fill="none"/>
<path d="M1026.3,703.0Q1026.2,696.6 1025.8,690.2" stroke="#222" stroke-width="1.9017164123162154" fill="none"/>
<path d="M1027.3,703.0Q1026.5,693.4 1024.4,683.8" stroke="#222" stroke-width="1.5211200403024856" fill="none"/>
<path d="M1030.1,703.0Q1030.5,692.9 1031.4,682.8" stroke="#777" stroke-width="1.1958023852564146" fill="none"/>
<path d="M1031.2,703.0Q1031.7,700.4 1033.1,697.9" stroke="#111" stroke-width="1.535632207023419" fill="none"/>
<path d="M1033.2,703.0Q1032.6,692.1 1031.0,681.2" stroke="#333" stroke-width="2.059581733821458" fill="none"/>
<path d="M1034.6,703.0Q1033.9,699.1 1032.1,695.3" stroke="#999" stroke-width="2.264691768549969" fill="none"/>
<path d="M1037.2,703.0Q1036.9,697.0 1036.2,691.0" stroke="#555" stroke-width="1.157528489223348" fill="none"/>
<path d="M1038.4,703.0Q1038.4,698.9 1038.3,694.7" stroke="#000" stroke-width="1.0631892664402882" fill="none"/>
<path d="M1005.0,703.1C1010.0,702.4 1014.6,701.3 1020.0,701.0C1026.2,700.7 1033.5,701.5 1040.2,701.8" stroke="#000" stroke-width="3.5" fill="none"/>
<path d="M1113.6,703.9Q1114.2,696.0 1115.6,688.2" stroke="#111" stroke-width="1.35242293693107" fill="none"/>
<path d="M1114.9,704.6Q1115.6,697.1 1117.4,689.5" stroke="#222" stroke-width="0.9800618224700322" fill="none"/>
<path d="M1118.3,706.5Q1119.0,699.0 1120.7,691.5" stroke="#555" stroke-width="1.9323248485984923" fill="none"/>
<path d="M1121.6,708.3Q1122.2,701.1 1123.7,693.8" stroke="#555" stroke-width="1.5067268283821167" fill="none"/>
<path d="M1124.7,710.0Q1125.5,706.5 1127.4,703.0" stroke="#111" stroke-width="0.962568866458672" fill="none"/>
<path d="M1126.2,710.8Q1126.6,706.3 1127.5,701.9" stroke="#111" stroke-width="1.270588346988249" fill="none"/>
<path d="M1130.4,713.1Q1130.7,710.4 1131.4,707.7" stroke="#555" stroke-width="2.1637274908735744" fill="none"/>
<path d="M1132.7,714.4Q1132.8,710.1 1133.0,705.8" stroke="#333" stroke-width="1.7992796553939598" fill="none"/>
<path d="M1135.4,715.9Q1135.0,711.7 1133.9,707.5" stroke="#333" stroke-width="1.3623174322689846" fill="none"/>
<path d="M1137.8,717.2Q1136.9,712.6 1134.9,708.1" stroke="#555" stroke-width="1.557528890432014" fill="none"/>
<path d="M1141.0,717.0Q1141.2,711.8 1141.7,706.6" stroke="#111" stroke-width="1.5702283072870058" fill="none"/>
<path d="M1144.1,717.0Q1143.4,709.9 1141.8,702.8" stroke="#999" stroke-width="1.6098282694854849" fill="none"/>
<path d="M1145.6,717.0Q1145.6,712.1 1145.6,707.3" stroke="#000" stroke-width="2.1034230020862124" fill="none"/>
<path d="M1149.4,717.0Q1149.8,714.3 1150.8,711.6" stroke="#111" stroke-width="1.0233615419506206" fill="none"/>
<path d="M1152.4,717.0Q1153.1,711.7 1154.8,706.4" stroke="#000" stroke-width="2.028088323443279" fill="none"/>
<path d="M1154.9,717.0Q1155.8,710.2 1157.9,703.4" stroke="#000" stroke-width="2.1856051668492777" fill="none"/>
<path d="M1157.9,717.0Q1158.6,710.0 1160.2,703.0" stroke="#111" stroke-width="1.0974262183352717" fill="none"/>
<path d="M1159.8,717.0Q1160.3,710.0 1161.5,703.1" stroke="#999" stroke-width="1.1476672755867312" fill="none"/>
<path d="M761.2,718.0 L761.2,1320.0" stroke="#000" stroke-width="3" fill="none"/>
<path d="M842.5,714.0 L842.5,1320.0" stroke="#000" stroke-width="3" fill="none"/>
<path d="M559.8,720.0Q565.8,724.0 571.8,730.5" stroke="#444" stroke-width="1.4" fill="none"/>
<path d="M559.8,732.8Q565.8,736.8 571.8,743.3" stroke="#444" stroke-width="1.4" fill="none"/>
<path d="M559.8,745.6Q565.8,749.6 571.8,756.1" stroke="#444" stroke-width="1.4" fill="none"/>
<path d="M559.8,758.4Q565.8,762.4 571.8,768.9" stroke="#444" stroke-width="1.4" fill="none"/>
<path d="M559.8,771.2Q565.8,775.2 571.8,781.7" stroke="#444" stroke-width="1.4" fill="none"/>
<path d="M559.8,784.0Q565.8,788.0 571.8,794.5" stroke="#444" stroke-width="1.4" fill="none"/>
<path d="M559.8,796.8Q565.8,800.8 571.8,807.3" stroke="#444" stroke-width="1.4" fill="none"/>
<path d="M559.8,809.6Q565.8,813.6 571.8,820.1" stroke="#444" stroke-width="1.4" fill="none"/>
<path d="M559.8,822.4Q565.8,826.4 571.8,832.9" stroke="#444" stroke-width="1.4" fill="none"/>
<path d="M559.8,835.2Q565.8,839.2 571.8,845.7" stroke="#444" stroke-width="1.4" fill="none"/>
<path d="M559.8,848.0Q565.8,852.0 571.8,858.5" stroke="#444" stroke-width="1.4" fill="none"/>
<path d="M559.8,860.8Q565.8,864.8 571.8,871.3" stroke="#444" stroke-width="1.4" fill="none"/>
<path d="M559.8,873.6Q565.8,877.6 571.8,884.1" stroke="#444" stroke-width="1.4" fill="none"/>
<path d="M559.8,886.4Q565.8,890.4 571.8,896.9" stroke="#444" stroke-width="1.4" fill="none"/>
<path d="M559.8,899.2Q565.8,903.2 571.8,909.7" stroke="#444" stroke-width="1.4" fill="none"/>
<path d="M559.9,717.0C559.5,719.0 558.8,721.0 558.7,723.0C558.6,725.0 558.9,727.0 559.1,729.0C559.3,731.0 559.7,733.0 559.7,735.0C559.6,737.0 558.8,739.0 558.8,741.0C558.9,743.0 559.8,745.0 559.9,747.0C559.9,749.0 559.0,751.0 559.0,753.0C559.0,755.0 559.8,757.0 559.7,759.0C559.7,761.0 558.9,763.0 558.8,765.0C558.7,767.0 559.1,769.0 559.3,771.0C559.5,773.0 560.0,775.0 559.9,777.0C559.8,779.0 559.0,781.0 558.9,783.0C558.7,785.0 558.9,787.0 559.0,789.0C559.0,791.0 559.3,793.0 559.3,795.0C559.3,797.0 559.2,799.0 559.0,801.0C558.9,803.0 558.7,805.0 558.7,807.0C558.6,809.0 558.8,811.0 558.9,813.0C558.9,815.0 558.7,817.0 558.8,819.0C559.0,821.0 559.8,823.0 559.9,825.0C560.0,827.0 559.6,829.0 559.6,831.0C559.5,833.0 560.0,835.0 559.9,837.0C559.7,839.0 558.9,841.0 558.8,843.0C558.8,845.0 559.7,847.0 559.7,849.0C559.7,851.0 558.8,853.0 558.8,855.0C558.7,857.0 559.2,859.0 559.3,861.0C559.5,863.0 559.5,865.0 559.5,867.0C559.5,869.0 559.0,871.0 559.1,873.0C559.2,875.0 559.8,877.0 559.8,879.0C559.9,881.0 559.4,883.0 559.4,885.0C559.3,887.0 559.3,889.0 559.4,891.0C559.5,893.0 559.9,895.0 559.8,897.0C559.7,899.0 558.7,901.0 558.7,903.0C558.8,905.0 559.9,907.0 560.0,909.0C560.1,911.0 559.6,913.2 559.5,915.0C559.4,916.5 559.4,917.7 559.3,919.0" stroke="#000" stroke-width="2.8" fill="none"/>
<path d="M572.2,717.0C572.3,719.0 572.7,721.0 572.7,723.0C572.7,725.0 571.9,727.0 572.0,729.0C572.0,731.0 572.9,733.0 573.0,735.0C573.1,737.0 572.6,739.0 572.4,741.0C572.3,743.0 572.1,745.0 572.1,747.0C572.1,749.0 572.7,751.0 572.7,753.0C572.7,755.0 572.4,757.0 572.2,759.0C572.1,761.0 571.8,763.0 571.8,765.0C571.9,767.0 572.7,769.0 572.6,771.0C572.6,773.0 571.7,775.0 571.7,777.0C571.7,779.0 572.7,781.0 572.7,783.0C572.8,785.0 572.0,787.0 572.0,789.0C571.9,791.0 572.3,793.0 572.5,795.0C572.7,797.0 573.0,799.0 573.0,801.0C573.0,803.0 572.5,805.0 572.4,807.0C572.3,809.0 572.6,811.0 572.5,813.0C572.5,815.0 572.2,817.0 572.0,819.0C571.9,821.0 571.7,823.0 571.6,825.0C571.5,827.0 571.6,829.0 571.6,831.0C571.7,833.0 571.7,835.0 571.8,837.0C571.9,839.0 572.4,841.0 572.5,843.0C572.5,845.0 572.2,847.0 572.2,849.0C572.2,851.0 572.2,853.0 572.3,855.0C572.4,857.0 572.9,859.0 572.9,861.0C572.8,863.0 571.9,865.0 571.8,867.0C571.6,869.0 571.8,871.0 571.9,873.0C572.0,875.0 572.6,877.0 572.5,879.0C572.5,881.0 571.8,883.0 571.6,885.0C571.5,887.0 571.5,889.0 571.6,891.0C571.7,893.0 572.1,895.0 572.1,897.0C572.1,899.0 571.7,901.0 571.7,903.0C571.7,905.0 572.1,907.0 572.1,909.0C572.1,911.0 571.9,913.2 571.9,915.0C572.0,916.5 572.2,917.7 572.3,919.0" stroke="#000" stroke-width="2.8" fill="none"/>
<path d="M689.1,721.0Q695.7,725.0 702.3,731.5" stroke="#444" stroke-width="1.4" fill="none"/>
<path d="M689.1,733.8Q695.7,737.8 702.3,744.3" stroke="#444" stroke-width="1.4" fill="none"/>
<path d="M689.1,746.6Q695.7,750.6 702.3,757.1" stroke="#444" stroke-width="1.4" fill="none"/>
<path d="M689.1,759.4Q695.7,763.4 702.3,769.9" stroke="#444" stroke-width="1.4" fill="none"/>
<path d="M689.1,772.2Q695.7,776.2 702.3,782.7" stroke="#444" stroke-width="1.4" fill="none"/>
<path d="M689.1,785.0Q695.7,789.0 702.3,795.5" stroke="#444" stroke-width="1.4" fill="none"/>
<path d="M689.1,797.8Q695.7,801.8 702.3,808.3" stroke="#444" stroke-width="1.4" fill="none"/>
<path d="M689.1,810.6Q695.7,814.6 702.3,821.1" stroke="#444" stroke-width="1.4" fill="none"/>
<path d="M689.1,823.4Q695.7,827.4 702.3,833.9" stroke="#444" stroke-width="1.4" fill="none"/>
<path d="M689.1,836.2Q695.7,840.2 702.3,846.7" stroke="#444" stroke-width="1.4" fill="none"/>
<path d="M689.1,849.0Q695.7,853.0 702.3,859.5" stroke="#444" stroke-width="1.4" fill="none"/>
<path d="M689.1,861.8Q695.7,865.8 702.3,872.3" stroke="#444" stroke-width="1.4" fill="none"/>
<path d="M689.1,874.6Q695.7,878.6 702.3,885.1" stroke="#444" stroke-width="1.4" fill="none"/>
<path d="M689.1,887.4Q695.7,891.4 702.3,897.9" stroke="#444" stroke-width="1.4" fill="none"/>
<path d="M689.1,900.2Q695.7,904.2 702.3,910.7" stroke="#444" stroke-width="1.4" fill="none"/>
<path d="M689.1,913.0Q695.7,917.0 702.3,923.5" stroke="#444" stroke-width="1.4" fill="none"/>
<path d="M688.7,718.0C688.7,720.0 688.8,722.0 688.7,724.0C688.6,726.0 688.2,728.0 688.2,730.0C688.2,732.0 688.7,734.0 688.8,736.0C688.8,738.0 688.7,740.0 688.6,742.0C688.5,744.0 688.0,746.0 688.1,748.0C688.2,750.0 689.2,752.0 689.2,754.0C689.2,756.0 688.4,758.0 688.2,760.0C688.1,762.0 688.1,764.0 688.1,766.0C688.1,768.0 687.9,770.0 688.0,772.0C688.1,774.0 688.6,776.0 688.8,778.0C689.0,780.0 689.1,782.0 689.1,784.0C689.2,786.0 689.1,788.0 689.0,790.0C688.9,792.0 688.6,794.0 688.5,796.0C688.3,798.0 688.4,800.0 688.3,802.0C688.2,804.0 687.8,806.0 687.9,808.0C688.0,810.0 688.7,812.0 688.8,814.0C688.9,816.0 688.8,818.0 688.7,820.0C688.6,822.0 688.4,824.0 688.4,826.0C688.4,828.0 688.8,830.0 688.8,832.0C688.8,834.0 688.5,836.0 688.5,838.0C688.6,840.0 689.1,842.0 689.2,844.0C689.3,846.0 689.1,848.0 688.9,850.0C688.8,852.0 688.2,854.0 688.2,856.0C688.3,858.0 689.2,860.0 689.2,862.0C689.1,864.0 688.0,866.0 688.0,868.0C687.9,870.0 688.6,872.0 688.6,874.0C688.7,876.0 688.5,878.0 688.5,880.0C688.4,882.0 688.3,884.0 688.2,886.0C688.2,888.0 687.9,890.0 688.0,892.0C688.1,894.0 689.0,896.0 689.0,898.0C689.0,900.0 688.0,902.0 687.9,904.0C687.9,906.0 688.5,908.0 688.7,910.0C688.9,912.0 689.3,914.0 689.2,916.0C689.1,918.0 688.1,920.5 688.1,922.0C688.1,922.8 688.4,923.3 688.6,924.0" stroke="#000" stroke-width="2.8" fill="none"/>
<path d="M702.4,718.0C702.6,720.0 702.9,722.0 703.0,724.0C703.0,726.0 702.8,728.0 702.8,730.0C702.8,732.0 702.9,734.0 703.0,736.0C703.1,738.0 703.3,740.0 703.2,742.0C703.1,744.0 702.5,746.0 702.3,748.0C702.2,750.0 702.5,752.0 702.5,754.0C702.6,756.0 702.6,758.0 702.5,760.0C702.5,762.0 702.0,764.0 702.2,766.0C702.3,768.0 703.2,770.0 703.3,772.0C703.5,774.0 703.2,776.0 703.2,778.0C703.2,780.0 703.3,782.0 703.1,784.0C702.9,786.0 702.1,788.0 702.1,790.0C702.1,792.0 703.1,794.0 703.3,796.0C703.5,798.0 703.2,800.0 703.1,802.0C703.1,804.0 702.8,806.0 702.8,808.0C702.8,810.0 703.1,812.0 703.1,814.0C703.1,816.0 702.9,818.0 702.7,820.0C702.6,822.0 702.5,824.0 702.4,826.0C702.3,828.0 702.2,830.0 702.2,832.0C702.2,834.0 702.4,836.0 702.4,838.0C702.4,840.0 702.1,842.0 702.2,844.0C702.2,846.0 702.4,848.0 702.6,850.0C702.7,852.0 703.1,854.0 703.1,856.0C703.2,858.0 703.1,860.0 703.1,862.0C703.1,864.0 703.3,866.0 703.3,868.0C703.3,870.0 703.2,872.0 703.1,874.0C703.0,876.0 702.5,878.0 702.5,880.0C702.4,882.0 702.8,884.0 702.9,886.0C702.9,888.0 702.7,890.0 702.7,892.0C702.8,894.0 703.2,896.0 703.2,898.0C703.2,900.0 703.0,902.0 702.8,904.0C702.7,906.0 702.4,908.0 702.5,910.0C702.5,912.0 702.8,914.0 703.0,916.0C703.2,918.0 703.6,920.5 703.5,922.0C703.3,922.9 703.0,923.3 702.8,924.0" stroke="#000" stroke-width="2.8" fill="none"/>
<path d="M890.0,720.0Q898.0,724.0 906.0,730.5" stroke="#444" stroke-width="1.4" fill="none"/>
<path d="M890.0,732.8Q898.0,736.8 906.0,743.3" stroke="#444" stroke-width="1.4" fill="none"/>
<path d="M890.0,745.6Q898.0,749.6 906.0,756.1" stroke="#444" stroke-width="1.4" fill="none"/>
<path d="M890.0,758.4Q898.0,762.4 906.0,768.9" stroke="#444" stroke-width="1.4" fill="none"/>
<path d="M890.0,771.2Q898.0,775.2 906.0,781.7" stroke="#444" stroke-width="1.4" fill="none"/>
<path d="M890.0,784.0Q898.0,788.0 906.0,794.5" stroke="#444" stroke-width="1.4" fill="none"/>
<path d="M890.0,796.8Q898.0,800.8 906.0,807.3" stroke="#444" stroke-width="1.4" fill="none"/>
<path d="M890.0,809.6Q898.0,813.6 906.0,820.1" stroke="#444" stroke-width="1.4" fill="none"/>
<path d="M890.0,822.4Q898.0,826.4 906.0,832.9" stroke="#444" stroke-width="1.4" fill="none"/>
<path d="M890.0,835.2Q898.0,839.2 906.0,845.7" stroke="#444" stroke-width="1.4" fill="none"/>
<path d="M890.0,848.0Q898.0,852.0 906.0,858.5" stroke="#444" stroke-width="1.4" fill="none"/>
<path d="M890.0,860.8Q898.0,864.8 906.0,871.3" stroke="#444" stroke-width="1.4" fill="none"/>
<path d="M890.0,873.6Q898.0,877.6 906.0,884.1" stroke="#444" stroke-width="1.4" fill="none"/>
<path d="M890.0,886.4Q898.0,890.4 906.0,896.9" stroke="#444" stroke-width="1.4" fill="none"/>
<path d="M890.0,899.2Q898.0,903.2 906.0,909.7" stroke="#444" stroke-width="1.4" fill="none"/>
<path d="M890.0,912.0Q898.0,916.0 906.0,922.5" stroke="#444" stroke-width="1.4" fill="none"/>
<path d="M890.0,924.8Q898.0,928.8 906.0,935.3" stroke="#444" stroke-width="1.4" fill="none"/>
<path d="M890.0,937.6Q898.0,941.6 906.0,948.1" stroke="#444" stroke-width="1.4" fill="none"/>
<path d="M890.0,950.4Q898.0,954.4 906.0,960.9" stroke="#444" stroke-width="1.4" fill="none"/>
<path d="M890.0,963.2Q898.0,967.2 906.0,973.7" stroke="#444" stroke-width="1.4" fill="none"/>
<path d="M890.0,976.0Q898.0,980.0 906.0,986.5" stroke="#444" stroke-width="1.4" fill="none"/>
<path d="M890.0,988.8Q898.0,992.8 906.0,999.3" stroke="#444" stroke-width="1.4" fill="none"/>
<path d="M890.0,1001.6Q898.0,1005.6 906.0,1012.1" stroke="#444" stroke-width="1.4" fill="none"/>
<path d="M890.0,1014.4Q898.0,1018.4 906.0,1024.9" stroke="#444" stroke-width="1.4" fill="none"/>
<path d="M889.1,717.0C889.4,719.0 890.1,721.0 890.0,723.0C890.0,725.0 889.0,727.0 888.8,729.0C888.7,731.0 889.1,733.0 889.2,735.0C889.2,737.0 889.0,739.0 889.1,741.0C889.2,743.0 889.7,745.0 889.8,747.0C890.0,749.0 890.1,751.0 890.1,753.0C890.1,755.0 890.0,757.0 889.8,759.0C889.7,761.0 889.2,763.0 889.3,765.0C889.3,767.0 890.0,769.0 890.0,771.0C890.0,773.0 889.4,775.0 889.3,777.0C889.1,779.0 889.0,781.0 889.1,783.0C889.3,785.0 890.0,787.0 890.1,789.0C890.2,791.0 889.7,793.0 889.7,795.0C889.6,797.0 889.8,799.0 889.8,801.0C889.8,803.0 889.7,805.0 889.7,807.0C889.8,809.0 890.2,811.0 890.2,813.0C890.1,815.0 889.5,817.0 889.5,819.0C889.4,821.0 889.9,823.0 890.0,825.0C890.0,827.0 889.8,829.0 889.8,831.0C889.8,833.0 890.1,835.0 890.0,837.0C889.9,839.0 889.4,841.0 889.4,843.0C889.4,845.0 889.8,847.0 889.8,849.0C889.8,851.0 889.7,853.0 889.6,855.0C889.5,857.0 889.3,859.0 889.2,861.0C889.1,863.0 889.0,865.0 889.1,867.0C889.2,869.0 889.7,871.0 889.7,873.0C889.6,875.0 888.8,877.0 888.9,879.0C889.0,881.0 890.1,883.0 890.1,885.0C890.1,887.0 889.2,889.0 889.0,891.0C888.8,893.0 888.8,895.0 888.8,897.0C888.8,899.0 888.7,901.0 888.9,903.0C889.2,905.0 890.0,907.0 890.1,909.0C890.2,911.0 889.5,913.0 889.3,915.0C889.1,917.0 889.1,919.0 889.0,921.0C888.9,923.0 888.9,925.0 888.8,927.0C888.8,929.0 888.7,931.0 888.9,933.0C889.0,935.0 889.6,937.0 889.8,939.0C889.9,941.0 889.7,943.0 889.7,945.0C889.7,947.0 889.8,949.0 889.8,951.0C889.8,953.0 890.0,955.0 889.8,957.0C889.7,959.0 888.9,961.0 888.9,963.0C888.9,965.0 889.6,967.0 889.6,969.0C889.7,971.0 889.3,973.0 889.3,975.0C889.4,977.0 889.8,979.0 889.9,981.0C890.1,983.0 889.9,985.0 889.9,987.0C890.0,989.0 890.2,991.0 890.0,993.0C889.9,995.0 888.9,997.0 888.9,999.0C888.9,1001.0 889.8,1003.0 890.0,1005.0C890.2,1007.0 890.1,1009.0 890.1,1011.0C890.1,1013.0 890.3,1015.0 890.1,1017.0C889.9,1019.0 889.0,1021.2 888.9,1023.0C888.9,1024.5 889.3,1025.7 889.5,1027.0" stroke="#000" stroke-width="2.8" fill="none"/>
<path d="M906.1,717.0C906.0,719.0 906.0,721.0 906.0,723.0C905.9,725.0 905.7,727.0 905.8,729.0C906.0,731.0 906.8,733.0 907.0,735.0C907.2,737.0 907.0,739.0 906.9,741.0C906.9,743.0 906.7,745.0 906.7,747.0C906.7,749.0 907.0,751.0 907.0,753.0C907.0,755.0 906.8,757.0 906.7,759.0C906.6,761.0 906.3,763.0 906.2,765.0C906.1,767.0 906.0,769.0 905.9,771.0C905.9,773.0 905.8,775.0 905.9,777.0C906.1,779.0 906.8,781.0 906.9,783.0C906.9,785.0 906.2,787.0 906.1,789.0C906.0,791.0 906.2,793.0 906.2,795.0C906.3,797.0 906.5,799.0 906.4,801.0C906.3,803.0 905.9,805.0 905.8,807.0C905.8,809.0 906.1,811.0 906.2,813.0C906.2,815.0 906.1,817.0 906.2,819.0C906.3,821.0 906.8,823.0 906.8,825.0C906.8,827.0 906.4,829.0 906.3,831.0C906.2,833.0 906.1,835.0 906.2,837.0C906.4,839.0 907.1,841.0 907.1,843.0C907.2,845.0 906.5,847.0 906.5,849.0C906.5,851.0 907.0,853.0 907.0,855.0C907.0,857.0 906.9,859.0 906.7,861.0C906.5,863.0 905.9,865.0 905.8,867.0C905.8,869.0 906.3,871.0 906.4,873.0C906.5,875.0 906.3,877.0 906.4,879.0C906.5,881.0 906.9,883.0 906.9,885.0C906.9,887.0 906.3,889.0 906.3,891.0C906.3,893.0 906.7,895.0 906.8,897.0C906.8,899.0 906.7,901.0 906.6,903.0C906.4,905.0 906.0,907.0 906.1,909.0C906.2,911.0 907.0,913.0 907.0,915.0C907.0,917.0 905.9,919.0 905.9,921.0C905.9,923.0 906.9,925.0 906.9,927.0C907.0,929.0 906.2,931.0 906.0,933.0C905.8,935.0 905.8,937.0 905.8,939.0C905.8,941.0 905.9,943.0 906.1,945.0C906.3,947.0 906.7,949.0 906.9,951.0C907.0,953.0 907.3,955.0 907.2,957.0C907.0,959.0 905.9,961.0 905.8,963.0C905.7,965.0 906.4,967.0 906.5,969.0C906.6,971.0 906.4,973.0 906.5,975.0C906.6,977.0 907.0,979.0 906.9,981.0C906.8,983.0 906.1,985.0 906.1,987.0C906.0,989.0 906.5,991.0 906.5,993.0C906.5,995.0 906.2,997.0 906.3,999.0C906.4,1001.0 907.0,1003.0 907.0,1005.0C906.9,1007.0 906.1,1009.0 906.2,1011.0C906.2,1013.0 907.1,1015.0 907.1,1017.0C907.1,1019.0 906.3,1021.2 906.2,1023.0C906.1,1024.5 906.4,1025.7 906.5,1027.0" stroke="#000" stroke-width="2.8" fill="none"/>
<path d="M972.0,719.0Q980.0,723.0 988.0,729.5" stroke="#444" stroke-width="1.4" fill="none"/>
<path d="M972.0,731.8Q980.0,735.8 988.0,742.3" stroke="#444" stroke-width="1.4" fill="none"/>
<path d="M972.0,744.6Q980.0,748.6 988.0,755.1" stroke="#444" stroke-width="1.4" fill="none"/>
<path d="M972.0,757.4Q980.0,761.4 988.0,767.9" stroke="#444" stroke-width="1.4" fill="none"/>
<path d="M972.0,770.2Q980.0,774.2 988.0,780.7" stroke="#444" stroke-width="1.4" fill="none"/>
<path d="M972.0,783.0Q980.0,787.0 988.0,793.5" stroke="#444" stroke-width="1.4" fill="none"/>
<path d="M972.0,795.8Q980.0,799.8 988.0,806.3" stroke="#444" stroke-width="1.4" fill="none"/>
<path d="M972.0,808.6Q980.0,812.6 988.0,819.1" stroke="#444" stroke-width="1.4" fill="none"/>
<path d="M972.0,821.4Q980.0,825.4 988.0,831.9" stroke="#444" stroke-width="1.4" fill="none"/>
<path d="M972.0,834.2Q980.0,838.2 988.0,844.7" stroke="#444" stroke-width="1.4" fill="none"/>
<path d="M972.0,847.0Q980.0,851.0 988.0,857.5" stroke="#444" stroke-width="1.4" fill="none"/>
<path d="M972.0,859.8Q980.0,863.8 988.0,870.3" stroke="#444" stroke-width="1.4" fill="none"/>
<path d="M972.0,872.6Q980.0,876.6 988.0,883.1" stroke="#444" stroke-width="1.4" fill="none"/>
<path d="M972.0,885.4Q980.0,889.4 988.0,895.9" stroke="#444" stroke-width="1.4" fill="none"/>
<path d="M972.0,898.2Q980.0,902.2 988.0,908.7" stroke="#444" stroke-width="1.4" fill="none"/>
<path d="M972.0,911.0Q980.0,915.0 988.0,921.5" stroke="#444" stroke-width="1.4" fill="none"/>
<path d="M972.0,923.8Q980.0,927.8 988.0,934.3" stroke="#444" stroke-width="1.4" fill="none"/>
<path d="M972.0,936.6Q980.0,940.6 988.0,947.1" stroke="#444" stroke-width="1.4" fill="none"/>
<path d="M972.0,949.4Q980.0,953.4 988.0,959.9" stroke="#444" stroke-width="1.4" fill="none"/>
<path d="M972.0,962.2Q980.0,966.2 988.0,972.7" stroke="#444" stroke-width="1.4" fill="none"/>
<path d="M972.0,975.0Q980.0,979.0 988.0,985.5" stroke="#444" stroke-width="1.4" fill="none"/>
<path d="M972.0,987.8Q980.0,991.8 988.0,998.3" stroke="#444" stroke-width="1.4" fill="none"/>
<path d="M972.0,1000.6Q980.0,1004.6 988.0,1011.1" stroke="#444" stroke-width="1.4" fill="none"/>
<path d="M972.0,1013.4Q980.0,1017.4 988.0,1023.9" stroke="#444" stroke-width="1.4" fill="none"/>
<path d="M972.0,1026.2Q980.0,1030.2 988.0,1036.7" stroke="#444" stroke-width="1.4" fill="none"/>
<path d="M971.1,716.0C971.3,718.0 971.7,720.0 971.8,722.0C971.8,724.0 971.6,726.0 971.5,728.0C971.4,730.0 970.9,732.0 971.0,734.0C971.0,736.0 971.7,738.0 971.7,740.0C971.7,742.0 970.9,744.0 970.9,746.0C970.9,748.0 971.8,750.0 971.9,752.0C972.0,754.0 971.8,756.0 971.8,758.0C971.8,760.0 971.9,762.0 971.9,764.0C971.9,766.0 971.8,768.0 971.7,770.0C971.6,772.0 971.4,774.0 971.3,776.0C971.2,778.0 971.4,780.0 971.4,782.0C971.4,784.0 971.2,786.0 971.4,788.0C971.5,790.0 972.1,792.0 972.0,794.0C972.0,796.0 970.9,798.0 970.9,800.0C970.9,802.0 972.1,804.0 972.0,806.0C972.0,808.0 971.0,810.0 970.8,812.0C970.7,814.0 971.0,816.0 971.1,818.0C971.1,820.0 971.0,822.0 971.2,824.0C971.3,826.0 972.0,828.0 972.1,830.0C972.1,832.0 971.6,834.0 971.5,836.0C971.4,838.0 971.2,840.0 971.3,842.0C971.4,844.0 972.1,846.0 972.0,848.0C972.0,850.0 971.2,852.0 971.1,854.0C971.0,856.0 971.4,858.0 971.4,860.0C971.5,862.0 971.5,864.0 971.5,866.0C971.6,868.0 971.8,870.0 971.9,872.0C971.9,874.0 971.9,876.0 971.9,878.0C971.8,880.0 971.8,882.0 971.7,884.0C971.6,886.0 971.4,888.0 971.3,890.0C971.2,892.0 971.3,894.0 971.3,896.0C971.2,898.0 970.9,900.0 971.0,902.0C971.1,904.0 971.9,906.0 972.0,908.0C972.1,910.0 971.8,912.0 971.7,914.0C971.7,916.0 972.0,918.0 971.8,920.0C971.7,922.0 971.1,924.0 971.0,926.0C971.0,928.0 971.3,930.0 971.4,932.0C971.6,934.0 971.9,936.0 971.9,938.0C971.9,940.0 971.8,942.0 971.6,944.0C971.5,946.0 971.0,948.0 971.0,950.0C970.9,952.0 971.3,954.0 971.4,956.0C971.6,958.0 972.1,960.0 972.0,962.0C972.0,964.0 971.3,966.0 971.1,968.0C971.0,970.0 971.1,972.0 971.1,974.0C971.1,976.0 971.1,978.0 971.2,980.0C971.3,982.0 971.7,984.0 971.8,986.0C971.9,988.0 972.1,990.0 972.0,992.0C971.9,994.0 971.2,996.0 971.0,998.0C970.9,1000.0 971.0,1002.0 971.0,1004.0C971.0,1006.0 971.1,1008.0 971.1,1010.0C971.2,1012.0 971.2,1014.0 971.3,1016.0C971.3,1018.0 971.6,1020.0 971.5,1022.0C971.5,1024.0 971.1,1026.0 971.0,1028.0C971.0,1030.0 971.3,1032.0 971.3,1034.0C971.3,1036.0 970.9,1038.5 971.1,1040.0C971.1,1040.9 971.4,1041.3 971.5,1042.0" stroke="#000" stroke-width="2.8" fill="none"/>
<path d="M989.2,716.0C989.1,718.0 989.0,720.0 988.8,722.0C988.6,724.0 987.9,726.0 987.9,728.0C988.0,730.0 989.1,732.0 989.1,734.0C989.1,736.0 988.1,738.0 987.9,740.0C987.8,742.0 988.1,744.0 988.3,746.0C988.5,748.0 989.1,750.0 989.2,752.0C989.3,754.0 989.0,756.0 988.9,758.0C988.9,760.0 988.9,762.0 988.8,764.0C988.7,766.0 988.5,768.0 988.4,770.0C988.3,772.0 988.0,774.0 988.1,776.0C988.1,778.0 988.7,780.0 988.7,782.0C988.7,784.0 988.0,786.0 987.9,788.0C987.8,790.0 988.0,792.0 988.1,794.0C988.2,796.0 988.4,798.0 988.3,800.0C988.3,802.0 987.8,804.0 987.8,806.0C987.8,808.0 988.2,810.0 988.4,812.0C988.5,814.0 988.8,816.0 988.9,818.0C989.0,820.0 988.8,822.0 988.8,824.0C988.7,826.0 988.5,828.0 988.5,830.0C988.5,832.0 988.7,834.0 988.7,836.0C988.7,838.0 988.6,840.0 988.4,842.0C988.3,844.0 988.0,846.0 988.0,848.0C988.0,850.0 988.6,852.0 988.6,854.0C988.7,856.0 988.3,858.0 988.4,860.0C988.4,862.0 988.7,864.0 988.8,866.0C989.0,868.0 989.1,870.0 989.1,872.0C989.0,874.0 988.5,876.0 988.4,878.0C988.3,880.0 988.5,882.0 988.6,884.0C988.7,886.0 988.9,888.0 988.8,890.0C988.8,892.0 988.5,894.0 988.4,896.0C988.3,898.0 988.1,900.0 988.1,902.0C988.2,904.0 988.7,906.0 988.8,908.0C989.0,910.0 989.0,912.0 989.0,914.0C989.0,916.0 988.9,918.0 988.9,920.0C988.8,922.0 988.8,924.0 988.8,926.0C988.8,928.0 989.0,930.0 989.0,932.0C989.0,934.0 988.8,936.0 988.8,938.0C988.7,940.0 988.8,942.0 988.7,944.0C988.6,946.0 988.5,948.0 988.4,950.0C988.4,952.0 988.2,954.0 988.2,956.0C988.3,958.0 988.7,960.0 988.7,962.0C988.6,964.0 988.0,966.0 987.9,968.0C987.9,970.0 988.2,972.0 988.4,974.0C988.5,976.0 988.8,978.0 988.9,980.0C989.0,982.0 988.8,984.0 988.8,986.0C988.8,988.0 988.8,990.0 988.7,992.0C988.6,994.0 988.2,996.0 988.2,998.0C988.1,1000.0 988.3,1002.0 988.4,1004.0C988.4,1006.0 988.4,1008.0 988.4,1010.0C988.5,1012.0 988.7,1014.0 988.7,1016.0C988.7,1018.0 988.4,1020.0 988.4,1022.0C988.4,1024.0 988.6,1026.0 988.7,1028.0C988.9,1030.0 989.2,1032.0 989.1,1034.0C989.0,1036.0 988.0,1038.5 988.1,1040.0C988.1,1040.8 988.4,1041.3 988.5,1042.0" stroke="#000" stroke-width="2.8" fill="none"/>
<path d="M1028.0,707.0Q1034.8,711.0 1041.5,717.5" stroke="#444" stroke-width="1.4" fill="none"/>
<path d="M1028.0,719.8Q1034.8,723.8 1041.5,730.3" stroke="#444" stroke-width="1.4" fill="none"/>
<path d="M1028.0,732.6Q1034.8,736.6 1041.5,743.1" stroke="#444" stroke-width="1.4" fill="none"/>
<path d="M1028.0,745.4Q1034.8,749.4 1041.5,755.9" stroke="#444" stroke-width="1.4" fill="none"/>
<path d="M1028.0,758.2Q1034.8,762.2 1041.5,768.7" stroke="#444" stroke-width="1.4" fill="none"/>
<path d="M1028.0,771.0Q1034.8,775.0 1041.5,781.5" stroke="#444" stroke-width="1.4" fill="none"/>
<path d="M1028.0,783.8Q1034.8,787.8 1041.5,794.3" stroke="#444" stroke-width="1.4" fill="none"/>
<path d="M1028.0,796.6Q1034.8,800.6 1041.5,807.1" stroke="#444" stroke-width="1.4" fill="none"/>
<path d="M1028.0,809.4Q1034.8,813.4 1041.5,819.9" stroke="#444" stroke-width="1.4" fill="none"/>
<path d="M1028.0,822.2Q1034.8,826.2 1041.5,832.7" stroke="#444" stroke-width="1.4" fill="none"/>
<path d="M1028.0,835.0Q1034.8,839.0 1041.5,845.5" stroke="#444" stroke-width="1.4" fill="none"/>
<path d="M1028.0,847.8Q1034.8,851.8 1041.5,858.3" stroke="#444" stroke-width="1.4" fill="none"/>
<path d="M1028.0,860.6Q1034.8,864.6 1041.5,871.1" stroke="#444" stroke-width="1.4" fill="none"/>
<path d="M1028.0,873.4Q1034.8,877.4 1041.5,883.9" stroke="#444" stroke-width="1.4" fill="none"/>
<path d="M1028.0,886.2Q1034.8,890.2 1041.5,896.7" stroke="#444" stroke-width="1.4" fill="none"/>
<path d="M1028.0,899.0Q1034.8,903.0 1041.5,909.5" stroke="#444" stroke-width="1.4" fill="none"/>
<path d="M1028.0,911.8Q1034.8,915.8 1041.5,922.3" stroke="#444" stroke-width="1.4" fill="none"/>
<path d="M1028.0,924.6Q1034.8,928.6 1041.5,935.1" stroke="#444" stroke-width="1.4" fill="none"/>
<path d="M1028.0,937.4Q1034.8,941.4 1041.5,947.9" stroke="#444" stroke-width="1.4" fill="none"/>
<path d="M1028.0,950.2Q1034.8,954.2 1041.5,960.7" stroke="#444" stroke-width="1.4" fill="none"/>
<path d="M1028.0,963.0Q1034.8,967.0 1041.5,973.5" stroke="#444" stroke-width="1.4" fill="none"/>
<path d="M1028.0,975.8Q1034.8,979.8 1041.5,986.3" stroke="#444" stroke-width="1.4" fill="none"/>
<path d="M1028.0,988.6Q1034.8,992.6 1041.5,999.1" stroke="#444" stroke-width="1.4" fill="none"/>
<path d="M1027.7,704.0C1027.8,706.0 1028.0,708.0 1027.9,710.0C1027.8,712.0 1027.4,714.0 1027.3,716.0C1027.3,718.0 1027.3,720.0 1027.5,722.0C1027.6,724.0 1028.3,726.0 1028.2,728.0C1028.1,730.0 1027.0,732.0 1026.9,734.0C1026.8,736.0 1027.5,738.0 1027.6,740.0C1027.6,742.0 1027.0,744.0 1027.0,746.0C1027.1,748.0 1027.7,750.0 1027.9,752.0C1028.1,754.0 1028.2,756.0 1028.1,758.0C1028.1,760.0 1027.7,762.0 1027.5,764.0C1027.3,766.0 1026.9,768.0 1026.9,770.0C1027.0,772.0 1027.5,774.0 1027.6,776.0C1027.7,778.0 1027.5,780.0 1027.6,782.0C1027.6,784.0 1027.8,786.0 1027.8,788.0C1027.8,790.0 1027.5,792.0 1027.5,794.0C1027.5,796.0 1027.6,798.0 1027.7,800.0C1027.8,802.0 1028.0,804.0 1028.0,806.0C1027.9,808.0 1027.6,810.0 1027.5,812.0C1027.4,814.0 1027.3,816.0 1027.4,818.0C1027.5,820.0 1028.2,822.0 1028.1,824.0C1028.1,826.0 1027.2,828.0 1027.1,830.0C1027.0,832.0 1027.7,834.0 1027.8,836.0C1027.8,838.0 1027.3,840.0 1027.3,842.0C1027.4,844.0 1027.9,846.0 1027.9,848.0C1027.8,850.0 1026.9,852.0 1027.0,854.0C1027.0,856.0 1028.1,858.0 1028.2,860.0C1028.2,862.0 1027.5,864.0 1027.3,866.0C1027.1,868.0 1026.9,870.0 1026.9,872.0C1026.9,874.0 1027.1,876.0 1027.2,878.0C1027.3,880.0 1027.4,882.0 1027.4,884.0C1027.3,886.0 1026.8,888.0 1026.8,890.0C1026.8,892.0 1027.3,894.0 1027.4,896.0C1027.5,898.0 1027.3,900.0 1027.4,902.0C1027.5,904.0 1027.8,906.0 1027.8,908.0C1027.8,910.0 1027.4,912.0 1027.3,914.0C1027.2,916.0 1027.2,918.0 1027.2,920.0C1027.1,922.0 1027.0,924.0 1027.1,926.0C1027.2,928.0 1027.7,930.0 1027.8,932.0C1028.0,934.0 1028.2,936.0 1028.1,938.0C1028.1,940.0 1027.7,942.0 1027.5,944.0C1027.4,946.0 1027.0,948.0 1027.1,950.0C1027.2,952.0 1027.9,954.0 1027.9,956.0C1028.0,958.0 1027.5,960.0 1027.3,962.0C1027.2,964.0 1027.2,966.0 1027.1,968.0C1027.0,970.0 1026.9,972.0 1027.0,974.0C1027.1,976.0 1027.7,978.0 1027.9,980.0C1028.0,982.0 1028.0,984.0 1027.9,986.0C1027.9,988.0 1027.8,990.0 1027.7,992.0C1027.6,994.0 1027.6,996.0 1027.5,998.0" stroke="#000" stroke-width="2.8" fill="none"/>
<path d="M1042.0,704.0C1042.0,706.0 1042.1,708.0 1042.1,710.0C1042.0,712.0 1041.5,714.0 1041.6,716.0C1041.7,718.0 1042.6,720.0 1042.6,722.0C1042.7,724.0 1041.9,726.0 1041.8,728.0C1041.7,730.0 1042.1,732.0 1042.2,734.0C1042.3,736.0 1042.4,738.0 1042.4,740.0C1042.5,742.0 1042.5,744.0 1042.4,746.0C1042.4,748.0 1042.1,750.0 1042.0,752.0C1041.8,754.0 1041.7,756.0 1041.7,758.0C1041.7,760.0 1042.1,762.0 1042.1,764.0C1042.0,766.0 1041.4,768.0 1041.5,770.0C1041.5,772.0 1042.4,774.0 1042.5,776.0C1042.5,778.0 1041.8,780.0 1041.8,782.0C1041.8,784.0 1042.5,786.0 1042.5,788.0C1042.5,790.0 1041.8,792.0 1041.7,794.0C1041.6,796.0 1041.8,798.0 1041.8,800.0C1041.8,802.0 1041.6,804.0 1041.7,806.0C1041.7,808.0 1041.9,810.0 1041.9,812.0C1041.9,814.0 1041.7,816.0 1041.6,818.0C1041.5,820.0 1041.2,822.0 1041.3,824.0C1041.4,826.0 1042.2,828.0 1042.3,830.0C1042.4,832.0 1041.8,834.0 1041.7,836.0C1041.6,838.0 1041.6,840.0 1041.6,842.0C1041.6,844.0 1041.7,846.0 1041.7,848.0C1041.8,850.0 1041.9,852.0 1042.0,854.0C1042.0,856.0 1041.9,858.0 1041.9,860.0C1041.9,862.0 1042.1,864.0 1042.2,866.0C1042.2,868.0 1042.3,870.0 1042.2,872.0C1042.2,874.0 1041.7,876.0 1041.8,878.0C1041.9,880.0 1042.5,882.0 1042.6,884.0C1042.7,886.0 1042.7,888.0 1042.5,890.0C1042.3,892.0 1041.4,894.0 1041.4,896.0C1041.4,898.0 1042.3,900.0 1042.5,902.0C1042.7,904.0 1042.6,906.0 1042.6,908.0C1042.6,910.0 1042.6,912.0 1042.4,914.0C1042.2,916.0 1041.5,918.0 1041.5,920.0C1041.5,922.0 1042.3,924.0 1042.5,926.0C1042.6,928.0 1042.4,930.0 1042.2,932.0C1042.0,934.0 1041.5,936.0 1041.3,938.0C1041.2,940.0 1041.1,942.0 1041.3,944.0C1041.5,946.0 1042.5,948.0 1042.6,950.0C1042.8,952.0 1042.4,954.0 1042.2,956.0C1042.1,958.0 1041.8,960.0 1041.7,962.0C1041.5,964.0 1041.5,966.0 1041.4,968.0C1041.4,970.0 1041.5,972.0 1041.5,974.0C1041.5,976.0 1041.5,978.0 1041.6,980.0C1041.8,982.0 1042.4,984.0 1042.4,986.0C1042.4,988.0 1041.8,990.0 1041.8,992.0C1041.7,994.0 1041.9,996.0 1042.0,998.0" stroke="#000" stroke-width="2.8" fill="none"/>
<path d="M561,1008L552.5,1033C552,1040 560,1041.5 566,1041.5C573,1041.5 581,1039 579.1,1034L569.5,1008Z" stroke="#000" stroke-width="3" fill="#fff"/>
<path d="M688.6,1006L688.6,1016.1C684,1025 680,1033 680.6,1037.6C681,1043 688,1045.6 696.5,1045.6C703,1045.6 709,1041 709,1038.8C707,1030 704,1022 702.2,1016.1L702.2,1006Z" stroke="#000" stroke-width="3" fill="#fff"/>
<path d="M689.0,1016.5L702.0,1016.5" stroke="#555" stroke-width="1.5" fill="none"/>
<path d="M408.9,946.3C411.2,942.0 414.2,938.1 418.5,935.3C423.8,931.8 431.2,930.7 439.2,928.9C449.6,926.6 463.0,925.3 475.8,923.9C489.7,922.4 504.0,921.1 519.7,920.4C537.7,919.7 557.8,920.0 577.7,920.2C599.1,920.4 623.6,920.8 644.0,921.7C661.5,922.5 678.0,922.9 692.6,925.1C704.8,926.9 715.9,929.5 725.7,932.8C734.1,935.7 742.1,938.9 748.2,943.1C753.4,946.5 757.8,950.4 760.8,955.0C763.6,959.3 765.8,964.7 766.0,969.6C766.2,974.2 764.5,979.6 762.1,983.5C759.7,987.3 756.1,990.2 751.7,992.8C745.9,996.1 737.5,998.0 729.2,1000.3C719.2,1003.0 707.2,1005.3 695.7,1007.2C683.6,1009.2 671.0,1010.3 658.4,1011.7C645.6,1013.0 631.9,1014.4 619.4,1015.2C607.9,1016.0 597.6,1016.5 586.3,1016.7C574.3,1016.8 562.1,1016.4 549.2,1016.0C535.1,1015.5 519.2,1014.9 504.9,1013.9C491.3,1013.0 477.5,1012.2 465.4,1010.3C454.8,1008.6 444.5,1006.9 436.0,1003.6C428.8,1000.7 422.3,997.0 417.3,992.5C412.9,988.6 409.3,983.9 407.2,978.8C405.1,973.9 404.3,968.0 404.6,962.6C404.9,957.1 406.4,951.0 408.9,946.3Z" stroke="#000" stroke-width="3" fill="#fff"/>
<path d="M446.3,937.0C450.0,939.1 453.0,941.7 457.4,943.3C463.1,945.4 469.6,946.4 478.2,947.4C492.2,948.9 514.9,948.7 533.6,948.8C552.8,948.9 572.5,948.2 591.9,948.1C611.3,948.0 633.3,948.4 650.0,948.2C662.6,948.1 674.5,949.3 683.3,947.5C689.5,946.2 692.5,943.3 698.5,941.3C706.6,938.6 717.9,936.2 727.6,933.7" stroke="#000" stroke-width="2.8" fill="none"/>
<path d="M571.7,953.3C575.1,957.2 578.7,960.9 582.0,965.0C585.4,969.2 588.5,973.9 591.7,978.3" stroke="#000" stroke-width="2.2" fill="none"/>
<path d="M591.5,683L608,683L608,1022L591.5,1022Z" stroke="none" stroke-width="0" fill="#fff"/>
<path d="M592.0,686.0Q599.8,690.0 607.5,696.5" stroke="#444" stroke-width="1.4" fill="none"/>
<path d="M592.0,698.8Q599.8,702.8 607.5,709.3" stroke="#444" stroke-width="1.4" fill="none"/>
<path d="M592.0,711.6Q599.8,715.6 607.5,722.1" stroke="#444" stroke-width="1.4" fill="none"/>
<path d="M592.0,724.4Q599.8,728.4 607.5,734.9" stroke="#444" stroke-width="1.4" fill="none"/>
<path d="M592.0,737.2Q599.8,741.2 607.5,747.7" stroke="#444" stroke-width="1.4" fill="none"/>
<path d="M592.0,750.0Q599.8,754.0 607.5,760.5" stroke="#444" stroke-width="1.4" fill="none"/>
<path d="M592.0,762.8Q599.8,766.8 607.5,773.3" stroke="#444" stroke-width="1.4" fill="none"/>
<path d="M592.0,775.6Q599.8,779.6 607.5,786.1" stroke="#444" stroke-width="1.4" fill="none"/>
<path d="M592.0,788.4Q599.8,792.4 607.5,798.9" stroke="#444" stroke-width="1.4" fill="none"/>
<path d="M592.0,801.2Q599.8,805.2 607.5,811.7" stroke="#444" stroke-width="1.4" fill="none"/>
<path d="M592.0,814.0Q599.8,818.0 607.5,824.5" stroke="#444" stroke-width="1.4" fill="none"/>
<path d="M592.0,826.8Q599.8,830.8 607.5,837.3" stroke="#444" stroke-width="1.4" fill="none"/>
<path d="M592.0,839.6Q599.8,843.6 607.5,850.1" stroke="#444" stroke-width="1.4" fill="none"/>
<path d="M592.0,852.4Q599.8,856.4 607.5,862.9" stroke="#444" stroke-width="1.4" fill="none"/>
<path d="M592.0,865.2Q599.8,869.2 607.5,875.7" stroke="#444" stroke-width="1.4" fill="none"/>
<path d="M592.0,878.0Q599.8,882.0 607.5,888.5" stroke="#444" stroke-width="1.4" fill="none"/>
<path d="M592.0,890.8Q599.8,894.8 607.5,901.3" stroke="#444" stroke-width="1.4" fill="none"/>
<path d="M592.0,903.6Q599.8,907.6 607.5,914.1" stroke="#444" stroke-width="1.4" fill="none"/>
<path d="M592.0,916.4Q599.8,920.4 607.5,926.9" stroke="#444" stroke-width="1.4" fill="none"/>
<path d="M592.0,929.2Q599.8,933.2 607.5,939.7" stroke="#444" stroke-width="1.4" fill="none"/>
<path d="M592.0,942.0Q599.8,946.0 607.5,952.5" stroke="#444" stroke-width="1.4" fill="none"/>
<path d="M592.0,954.8Q599.8,958.8 607.5,965.3" stroke="#444" stroke-width="1.4" fill="none"/>
<path d="M592.0,967.6Q599.8,971.6 607.5,978.1" stroke="#444" stroke-width="1.4" fill="none"/>
<path d="M592.0,980.4Q599.8,984.4 607.5,990.9" stroke="#444" stroke-width="1.4" fill="none"/>
<path d="M592.0,993.2Q599.8,997.2 607.5,1003.7" stroke="#444" stroke-width="1.4" fill="none"/>
<path d="M592.0,1006.0Q599.8,1010.0 607.5,1016.5" stroke="#444" stroke-width="1.4" fill="none"/>
<path d="M591.0,683.0C591.4,685.0 591.9,687.0 592.1,689.0C592.2,691.0 592.1,693.0 591.9,695.0C591.7,697.0 591.0,699.0 591.0,701.0C591.1,703.0 591.9,705.0 592.0,707.0C592.1,709.0 591.7,711.0 591.7,713.0C591.6,715.0 591.9,717.0 591.9,719.0C591.9,721.0 591.7,723.0 591.7,725.0C591.8,727.0 592.0,729.0 592.1,731.0C592.1,733.0 591.9,735.0 591.9,737.0C591.9,739.0 592.1,741.0 592.0,743.0C591.8,745.0 591.1,747.0 591.1,749.0C591.0,751.0 591.7,753.0 591.8,755.0C591.8,757.0 591.5,759.0 591.5,761.0C591.6,763.0 591.9,765.0 591.8,767.0C591.8,769.0 591.4,771.0 591.4,773.0C591.4,775.0 592.0,777.0 592.0,779.0C592.1,781.0 591.7,783.0 591.6,785.0C591.4,787.0 591.2,789.0 591.2,791.0C591.1,793.0 591.2,795.0 591.1,797.0C591.1,799.0 590.9,801.0 591.0,803.0C591.1,805.0 591.5,807.0 591.5,809.0C591.5,811.0 590.9,813.0 590.9,815.0C590.9,817.0 591.4,819.0 591.5,821.0C591.5,823.0 591.0,825.0 591.0,827.0C591.0,829.0 591.4,831.0 591.5,833.0C591.6,835.0 591.5,837.0 591.5,839.0C591.5,841.0 591.5,843.0 591.6,845.0C591.6,847.0 592.1,849.0 592.0,851.0C591.9,853.0 590.8,855.0 590.8,857.0C590.8,859.0 591.9,861.0 592.0,863.0C592.1,865.0 591.5,867.0 591.5,869.0C591.4,871.0 591.5,873.0 591.6,875.0C591.6,877.0 591.7,879.0 591.7,881.0C591.8,883.0 592.0,885.0 592.0,887.0C591.9,889.0 591.4,891.0 591.3,893.0C591.2,895.0 591.3,897.0 591.4,899.0C591.5,901.0 592.2,903.0 592.1,905.0C592.1,907.0 591.0,909.0 590.9,911.0C590.8,913.0 591.6,915.0 591.7,917.0C591.8,919.0 591.8,921.0 591.7,923.0C591.5,925.0 590.8,927.0 590.8,929.0C590.8,931.0 591.5,933.0 591.7,935.0C591.8,937.0 591.7,939.0 591.8,941.0C591.8,943.0 592.2,945.0 592.1,947.0C592.0,949.0 591.3,951.0 591.3,953.0C591.3,955.0 592.1,957.0 592.2,959.0C592.2,961.0 591.6,963.0 591.5,965.0C591.4,967.0 591.4,969.0 591.5,971.0C591.6,973.0 592.2,975.0 592.1,977.0C592.0,979.0 590.9,981.0 590.8,983.0C590.8,985.0 591.7,987.0 591.8,989.0C591.9,991.0 591.8,993.0 591.7,995.0C591.6,997.0 591.2,999.0 591.3,1001.0C591.3,1003.0 592.0,1005.0 592.0,1007.0C592.0,1009.0 591.4,1011.0 591.3,1013.0C591.2,1015.0 591.4,1017.3 591.5,1019.0C591.5,1020.2 591.5,1021.0 591.5,1022.0" stroke="#000" stroke-width="2.8" fill="none"/>
<path d="M608.0,683.0C608.2,685.0 608.5,687.0 608.4,689.0C608.3,691.0 607.7,693.0 607.6,695.0C607.5,697.0 607.9,699.0 607.9,701.0C608.0,703.0 607.9,705.0 607.9,707.0C607.9,709.0 608.0,711.0 608.1,713.0C608.2,715.0 608.5,717.0 608.5,719.0C608.4,721.0 607.7,723.0 607.7,725.0C607.7,727.0 608.4,729.0 608.5,731.0C608.5,733.0 607.9,735.0 607.9,737.0C607.8,739.0 608.0,741.0 608.0,743.0C608.0,745.0 607.7,747.0 607.7,749.0C607.7,751.0 607.8,753.0 608.0,755.0C608.2,757.0 608.6,759.0 608.7,761.0C608.7,763.0 608.3,765.0 608.2,767.0C608.2,769.0 608.5,771.0 608.4,773.0C608.3,775.0 607.9,777.0 607.8,779.0C607.7,781.0 607.8,783.0 607.7,785.0C607.7,787.0 607.7,789.0 607.7,791.0C607.8,793.0 608.0,795.0 608.1,797.0C608.2,799.0 608.1,801.0 608.2,803.0C608.2,805.0 608.5,807.0 608.4,809.0C608.3,811.0 607.4,813.0 607.4,815.0C607.3,817.0 608.1,819.0 608.3,821.0C608.5,823.0 608.6,825.0 608.5,827.0C608.5,829.0 608.3,831.0 608.1,833.0C607.9,835.0 607.4,837.0 607.4,839.0C607.3,841.0 607.7,843.0 607.7,845.0C607.7,847.0 607.3,849.0 607.3,851.0C607.3,853.0 607.4,855.0 607.6,857.0C607.8,859.0 608.5,861.0 608.6,863.0C608.7,865.0 608.2,867.0 608.2,869.0C608.1,871.0 608.2,873.0 608.2,875.0C608.3,877.0 608.3,879.0 608.4,881.0C608.5,883.0 608.6,885.0 608.6,887.0C608.5,889.0 608.2,891.0 608.2,893.0C608.1,895.0 608.2,897.0 608.2,899.0C608.2,901.0 608.2,903.0 608.2,905.0C608.2,907.0 608.3,909.0 608.3,911.0C608.3,913.0 608.1,915.0 608.1,917.0C608.1,919.0 608.3,921.0 608.3,923.0C608.2,925.0 607.6,927.0 607.6,929.0C607.6,931.0 608.2,933.0 608.2,935.0C608.3,937.0 607.9,939.0 607.9,941.0C608.0,943.0 608.4,945.0 608.4,947.0C608.3,949.0 607.6,951.0 607.4,953.0C607.3,955.0 607.6,957.0 607.6,959.0C607.5,961.0 607.2,963.0 607.4,965.0C607.5,967.0 608.2,969.0 608.4,971.0C608.6,973.0 608.6,975.0 608.6,977.0C608.6,979.0 608.3,981.0 608.2,983.0C608.1,985.0 607.8,987.0 607.8,989.0C607.9,991.0 608.4,993.0 608.5,995.0C608.5,997.0 608.5,999.0 608.4,1001.0C608.3,1003.0 608.2,1005.0 608.1,1007.0C608.0,1009.0 607.7,1011.0 607.7,1013.0C607.6,1015.0 607.6,1017.3 607.7,1019.0C607.8,1020.2 607.9,1021.0 608.0,1022.0" stroke="#000" stroke-width="2.8" fill="none"/>
<path d="M589.6,1033.1A10.5,10.2 0 1 0 610.6,1033.1A10.5,10.2 0 1 0 589.6,1033.1Z" stroke="#000" stroke-width="2.8" fill="#fff"/>
<path d="M593.3,1044.4C586,1052 579,1062 578.6,1067.1C578.5,1071 583,1071.7 596.7,1071.7L599,1074.5C610,1074 619,1072 622.8,1067.1C620,1060 612,1050 608,1044.4Z" stroke="#000" stroke-width="3" fill="#fff"/>
<path d="M605.8,1052.4C603.9,1055.6 601.5,1058.7 600.0,1062.0C598.5,1065.1 597.8,1068.5 596.7,1071.7" stroke="#000" stroke-width="1.6" fill="none"/>
<path d="M890.2,1036.1A10.7,8.5 0 1 0 911.6,1036.1A10.7,8.5 0 1 0 890.2,1036.1Z" stroke="#000" stroke-width="2.8" fill="#fff"/>
<path d="M892.7,1044.3L892.7,1054.4L907.8,1053.1L907.8,1044.3Z" stroke="#000" stroke-width="3" fill="#fff"/>
<path d="M892.7,1054.4C889,1062 886,1068 886.4,1072C887,1077 894,1079 902.8,1078.9C910,1078 918,1073 919.8,1068.2C915,1062 910,1056 907.8,1053.1Z" stroke="#000" stroke-width="3" fill="#fff"/>
<path d="M966.1,1052.5A12.3,10 0 1 0 990.7,1052.5A12.3,10 0 1 0 966.1,1052.5Z" stroke="#000" stroke-width="2.8" fill="#fff"/>
<path d="M970.8,1063.2C965,1070 959,1078 957,1084.6C958,1087 961,1088.4 972.1,1087.5L975.9,1094.7C985,1093 995,1091 999.8,1088.4C1002,1085 1001.5,1082 1001.1,1080.8C996,1073 991,1066 988.5,1063.2Z" stroke="#000" stroke-width="3" fill="#fff"/>
<path d="M972.0,1068.0L965.0,1085.0" stroke="#555" stroke-width="1.4" fill="none"/>
<path d="M1021.3,1009.0A11.3,9.5 0 1 0 1043.9,1009.0A11.3,9.5 0 1 0 1021.3,1009.0Z" stroke="#000" stroke-width="2.8" fill="#fff"/>
<path d="M1022.5,1019.1C1020,1026 1017,1033 1016.2,1038C1017,1042 1025,1045.5 1036.4,1045.5C1046,1044 1052,1041 1054,1038C1050,1030 1044,1023 1040.1,1019.1Z" stroke="#000" stroke-width="3" fill="#fff"/>
<path d="M805.7,1145.1C815.2,1135.2 835.1,1130.2 852.6,1125.8C872.9,1120.6 898.9,1120.0 920.8,1118.4C941.3,1116.9 961.1,1116.4 980.1,1116.1C997.6,1115.9 1013.6,1116.0 1030.6,1116.8C1048.1,1117.6 1066.5,1119.2 1083.6,1120.9C1099.7,1122.6 1116.2,1124.5 1130.3,1127.0C1142.1,1129.1 1153.1,1130.9 1162.6,1134.5C1170.9,1137.6 1178.5,1141.4 1184.8,1146.2C1190.5,1150.7 1195.6,1156.3 1199.0,1162.1C1202.0,1167.5 1204.0,1173.5 1204.5,1179.3C1205.1,1185.2 1203.9,1191.7 1202.0,1197.4C1200.0,1203.2 1196.8,1209.4 1192.7,1213.9C1188.5,1218.5 1183.3,1222.0 1177.2,1224.9C1170.2,1228.3 1161.7,1229.8 1152.7,1231.8C1141.8,1234.3 1129.0,1236.4 1116.2,1238.2C1102.1,1240.2 1086.6,1242.0 1071.6,1243.3C1056.7,1244.5 1041.6,1245.5 1026.5,1245.7C1011.1,1245.9 996.2,1245.7 980.0,1244.4C962.2,1243.1 943.1,1240.3 924.3,1237.5C904.8,1234.6 883.2,1230.8 865.3,1227.2C850.1,1224.0 834.6,1222.3 823.5,1217.3C815.0,1213.4 807.8,1209.2 803.0,1202.6C797.9,1195.6 794.2,1184.9 794.4,1175.6C794.7,1165.7 798.0,1153.1 805.7,1145.1Z" stroke="#000" stroke-width="3" fill="#fff"/>
<path d="M856.7,1153.3C864.1,1156.3 870.4,1159.6 879.0,1162.2C890.0,1165.4 903.7,1167.9 918.0,1169.8C935.2,1172.2 956.7,1173.5 975.3,1174.3C993.0,1175.0 1010.4,1175.2 1027.0,1174.6C1042.4,1174.1 1057.0,1172.7 1071.5,1171.3C1085.3,1170.0 1099.7,1168.4 1111.8,1166.7C1121.8,1165.2 1131.0,1163.8 1139.0,1161.8C1145.7,1160.2 1150.9,1157.9 1156.9,1156.0" stroke="#000" stroke-width="2.6" fill="none"/>
<path d="M880.0,1160.0C902.2,1158.3 928.3,1155.9 946.7,1155.0C959.7,1154.4 967.3,1154.7 980.0,1154.4C997.2,1154.0 1021.8,1152.2 1040.5,1152.9C1056.7,1153.5 1072.8,1154.7 1085.9,1157.5C1096.3,1159.7 1104.0,1163.5 1113.1,1166.5" stroke="#000" stroke-width="2.6" fill="none"/>
<path d="M1135.8,1163.5C1138.3,1159.5 1140.4,1154.1 1143.3,1151.4C1145.6,1149.3 1148.4,1148.9 1150.9,1147.6" stroke="#000" stroke-width="1.8" fill="none"/>
<path d="M941.7,1208.0C941.8,1210.0 941.9,1212.0 942.0,1214.0C942.1,1216.0 942.3,1218.0 942.5,1220.0" stroke="#000" stroke-width="2.2" fill="none"/>
<path d="M1004.2,1208.9C1004.3,1210.9 1004.4,1212.9 1004.5,1215.0C1004.6,1217.0 1004.8,1219.0 1005.0,1221.0" stroke="#000" stroke-width="2.2" fill="none"/>
<path d="M1032.9,1193.8C1033.0,1198.3 1033.1,1202.9 1033.2,1207.4C1033.3,1211.9 1033.5,1216.5 1033.7,1221.0" stroke="#000" stroke-width="2.2" fill="none"/>
<path d="M1073.0,1228.0L1074.0,1240.0" stroke="#777" stroke-width="1.6" fill="none"/>
<path d="M958.0,1378.0 L957.8,1380.1 L957.4,1382.2 L956.5,1384.3 L955.4,1386.3 L954.0,1388.4 L952.2,1390.4 L950.2,1392.3 L947.8,1394.3 L945.1,1396.2 L942.2,1398.0 L939.0,1399.8 L935.5,1401.5 L931.7,1403.2 L927.7,1404.8 L923.4,1406.3 L919.0,1407.7 L914.3,1409.1 L909.4,1410.4 L904.3,1411.5 L899.0,1412.6 L893.6,1413.6 L888.0,1414.5 L882.3,1415.3 L876.5,1416.0 L870.5,1416.6 L864.5,1417.1 L858.5,1417.5 L852.3,1417.8 L846.2,1417.9 L840.0,1418.0 L833.8,1417.9 L827.7,1417.8 L821.5,1417.5 L815.5,1417.1 L809.5,1416.6 L803.5,1416.0 L797.7,1415.3 L792.0,1414.5 L786.4,1413.6 L781.0,1412.6 L775.7,1411.5 L770.6,1410.4 L765.7,1409.1 L761.0,1407.7 L756.6,1406.3 L752.3,1404.8 L748.3,1403.2 L744.5,1401.5 L741.0,1399.8 L737.8,1398.0 L734.9,1396.2 L732.2,1394.3 L729.8,1392.3 L727.8,1390.4 L726.0,1388.4 L724.6,1386.3 L723.5,1384.3 L722.6,1382.2 L722.2,1380.1 L722.0,1378.0 L722.2,1375.0 L722.6,1372.0 L723.5,1369.1 L724.6,1366.1 L726.0,1363.2 L727.8,1360.4 L729.8,1357.6 L732.2,1354.8 L734.9,1352.1 L737.8,1349.5 L741.0,1347.0 L744.5,1344.5 L748.3,1342.1 L752.3,1339.9 L756.6,1337.7 L761.0,1335.6 L765.7,1333.7 L770.6,1331.9 L775.7,1330.2 L781.0,1328.6 L786.4,1327.2 L792.0,1325.9 L797.7,1324.8 L803.5,1323.8 L809.5,1322.9 L815.5,1322.2 L821.5,1321.7 L827.7,1321.3 L833.8,1321.1 L840.0,1321.0 L846.2,1321.1 L852.3,1321.3 L858.5,1321.7 L864.5,1322.2 L870.5,1322.9 L876.5,1323.8 L882.3,1324.8 L888.0,1325.9 L893.6,1327.2 L899.0,1328.6 L904.3,1330.2 L909.4,1331.9 L914.3,1333.7 L919.0,1335.6 L923.4,1337.7 L927.7,1339.9 L931.7,1342.1 L935.5,1344.5 L939.0,1347.0 L942.2,1349.5 L945.1,1352.1 L947.8,1354.8 L950.2,1357.6 L952.2,1360.4 L954.0,1363.2 L955.4,1366.1 L956.5,1369.1 L957.4,1372.0 L957.8,1375.0 L958.0,1378.0Z" stroke="#000" stroke-width="3" fill="#fff"/>
<path d="M792.0,1368.0 L791.9,1369.6 L791.5,1371.1 L790.9,1372.7 L790.0,1374.2 L788.9,1375.8 L787.6,1377.3 L786.0,1378.8 L784.2,1380.2 L782.2,1381.6 L779.9,1383.0 L777.5,1384.3 L774.8,1385.6 L771.9,1386.9 L768.9,1388.1 L765.6,1389.2 L762.2,1390.3 L758.6,1391.3 L754.9,1392.3 L751.0,1393.2 L747.0,1394.0 L742.9,1394.7 L738.6,1395.4 L734.3,1396.0 L729.8,1396.5 L725.3,1397.0 L720.7,1397.3 L716.1,1397.6 L711.4,1397.8 L706.7,1398.0 L702.0,1398.0 L697.3,1398.0 L692.6,1397.8 L687.9,1397.6 L683.3,1397.3 L678.7,1397.0 L674.2,1396.5 L669.7,1396.0 L665.4,1395.4 L661.1,1394.7 L657.0,1394.0 L653.0,1393.2 L649.1,1392.3 L645.4,1391.3 L641.8,1390.3 L638.4,1389.2 L635.1,1388.1 L632.1,1386.9 L629.2,1385.6 L626.5,1384.3 L624.1,1383.0 L621.8,1381.6 L619.8,1380.2 L618.0,1378.8 L616.4,1377.3 L615.1,1375.8 L614.0,1374.2 L613.1,1372.7 L612.5,1371.1 L612.1,1369.6 L612.0,1368.0 L612.1,1365.7 L612.5,1363.4 L613.1,1361.1 L614.0,1358.9 L615.1,1356.6 L616.4,1354.4 L618.0,1352.2 L619.8,1350.1 L621.8,1348.0 L624.1,1346.0 L626.5,1344.0 L629.2,1342.1 L632.1,1340.3 L635.1,1338.6 L638.4,1336.9 L641.8,1335.3 L645.4,1333.8 L649.1,1332.4 L653.0,1331.1 L657.0,1329.9 L661.1,1328.8 L665.4,1327.8 L669.7,1326.9 L674.2,1326.2 L678.7,1325.5 L683.3,1325.0 L687.9,1324.5 L692.6,1324.2 L697.3,1324.1 L702.0,1324.0 L706.7,1324.1 L711.4,1324.2 L716.1,1324.5 L720.7,1325.0 L725.3,1325.5 L729.8,1326.2 L734.3,1326.9 L738.6,1327.8 L742.9,1328.8 L747.0,1329.9 L751.0,1331.1 L754.9,1332.4 L758.6,1333.8 L762.2,1335.3 L765.6,1336.9 L768.9,1338.6 L771.9,1340.3 L774.8,1342.1 L777.5,1344.0 L779.9,1346.0 L782.2,1348.0 L784.2,1350.1 L786.0,1352.2 L787.6,1354.4 L788.9,1356.6 L790.0,1358.9 L790.9,1361.1 L791.5,1363.4 L791.9,1365.7 L792.0,1368.0Z" stroke="#000" stroke-width="3" fill="#fff"/>
<path d="M651.0,1400.0 L650.9,1402.4 L650.6,1404.8 L650.0,1407.2 L649.3,1409.6 L648.3,1411.9 L647.2,1414.2 L645.8,1416.5 L644.2,1418.7 L642.5,1420.9 L640.5,1423.0 L638.4,1425.1 L636.0,1427.0 L633.6,1428.9 L630.9,1430.8 L628.1,1432.5 L625.1,1434.2 L622.0,1435.7 L618.7,1437.2 L615.3,1438.6 L611.9,1439.8 L608.2,1441.0 L604.5,1442.0 L600.8,1442.9 L596.9,1443.7 L593.0,1444.4 L589.0,1445.0 L584.9,1445.4 L580.9,1445.7 L576.8,1445.9 L572.7,1446.0 L568.6,1445.9 L564.5,1445.7 L560.5,1445.4 L556.4,1445.0 L552.4,1444.4 L548.5,1443.7 L544.6,1442.9 L540.9,1442.0 L537.2,1441.0 L533.6,1439.8 L530.1,1438.6 L526.7,1437.2 L523.4,1435.7 L520.3,1434.2 L517.3,1432.5 L514.5,1430.8 L511.8,1428.9 L509.4,1427.0 L507.0,1425.1 L504.9,1423.0 L502.9,1420.9 L501.2,1418.7 L499.6,1416.5 L498.2,1414.2 L497.1,1411.9 L496.1,1409.6 L495.4,1407.2 L494.8,1404.8 L494.5,1402.4 L494.4,1400.0 L494.5,1397.9 L494.8,1395.7 L495.4,1393.6 L496.1,1391.5 L497.1,1389.4 L498.2,1387.3 L499.6,1385.3 L501.2,1383.3 L502.9,1381.4 L504.9,1379.5 L507.0,1377.7 L509.4,1375.9 L511.8,1374.2 L514.5,1372.6 L517.3,1371.0 L520.3,1369.5 L523.4,1368.1 L526.7,1366.8 L530.1,1365.6 L533.5,1364.5 L537.2,1363.5 L540.9,1362.5 L544.6,1361.7 L548.5,1361.0 L552.4,1360.4 L556.4,1359.9 L560.5,1359.5 L564.5,1359.2 L568.6,1359.1 L572.7,1359.0 L576.8,1359.1 L580.9,1359.2 L584.9,1359.5 L589.0,1359.9 L593.0,1360.4 L596.9,1361.0 L600.8,1361.7 L604.5,1362.5 L608.2,1363.5 L611.9,1364.5 L615.3,1365.6 L618.7,1366.8 L622.0,1368.1 L625.1,1369.5 L628.1,1371.0 L630.9,1372.6 L633.6,1374.2 L636.0,1375.9 L638.4,1377.7 L640.5,1379.5 L642.5,1381.4 L644.2,1383.3 L645.8,1385.3 L647.2,1387.3 L648.3,1389.4 L649.3,1391.5 L650.0,1393.6 L650.6,1395.7 L650.9,1397.9 L651.0,1400.0Z" stroke="#000" stroke-width="3" fill="#fff"/>
<path d="M1082.0,1400.0 L1081.9,1401.6 L1081.5,1403.1 L1081.0,1404.7 L1080.2,1406.2 L1079.1,1407.8 L1077.9,1409.3 L1076.4,1410.8 L1074.7,1412.2 L1072.8,1413.6 L1070.7,1415.0 L1068.4,1416.3 L1066.0,1417.6 L1063.3,1418.9 L1060.4,1420.1 L1057.4,1421.2 L1054.2,1422.3 L1050.9,1423.3 L1047.4,1424.3 L1043.7,1425.2 L1040.0,1426.0 L1036.1,1426.7 L1032.2,1427.4 L1028.1,1428.0 L1024.0,1428.5 L1019.7,1429.0 L1015.5,1429.3 L1011.1,1429.6 L1006.8,1429.8 L1002.4,1430.0 L998.0,1430.0 L993.6,1430.0 L989.2,1429.8 L984.9,1429.6 L980.5,1429.3 L976.3,1429.0 L972.0,1428.5 L967.9,1428.0 L963.8,1427.4 L959.9,1426.7 L956.0,1426.0 L952.3,1425.2 L948.6,1424.3 L945.1,1423.3 L941.8,1422.3 L938.6,1421.2 L935.6,1420.1 L932.7,1418.9 L930.0,1417.6 L927.6,1416.3 L925.3,1415.0 L923.2,1413.6 L921.3,1412.2 L919.6,1410.8 L918.1,1409.3 L916.9,1407.8 L915.8,1406.2 L915.0,1404.7 L914.5,1403.1 L914.1,1401.6 L914.0,1400.0 L914.1,1397.4 L914.5,1394.9 L915.0,1392.3 L915.8,1389.8 L916.9,1387.3 L918.1,1384.9 L919.6,1382.4 L921.3,1380.1 L923.2,1377.8 L925.3,1375.5 L927.6,1373.3 L930.0,1371.2 L932.7,1369.2 L935.6,1367.2 L938.6,1365.4 L941.8,1363.6 L945.1,1361.9 L948.6,1360.4 L952.3,1358.9 L956.0,1357.6 L959.9,1356.3 L963.8,1355.2 L967.9,1354.3 L972.0,1353.4 L976.3,1352.7 L980.5,1352.1 L984.9,1351.6 L989.2,1351.3 L993.6,1351.1 L998.0,1351.0 L1002.4,1351.1 L1006.8,1351.3 L1011.1,1351.6 L1015.5,1352.1 L1019.7,1352.7 L1024.0,1353.4 L1028.1,1354.3 L1032.2,1355.2 L1036.1,1356.3 L1040.0,1357.6 L1043.7,1358.9 L1047.4,1360.4 L1050.9,1361.9 L1054.2,1363.6 L1057.4,1365.4 L1060.4,1367.2 L1063.3,1369.2 L1066.0,1371.2 L1068.4,1373.3 L1070.7,1375.5 L1072.8,1377.8 L1074.7,1380.1 L1076.4,1382.4 L1077.9,1384.9 L1079.1,1387.3 L1080.2,1389.8 L1081.0,1392.3 L1081.5,1394.9 L1081.9,1397.4 L1082.0,1400.0Z" stroke="#000" stroke-width="3" fill="#fff"/>
<path d="M560.0,1480.0C554.9,1466.3 591.4,1438.5 602.9,1428.2C609.0,1422.7 613.3,1421.1 618.8,1417.6C624.5,1414.0 630.4,1410.2 636.4,1407.1C642.2,1404.0 646.5,1401.5 654.1,1399.0C666.7,1394.9 688.5,1391.6 706.0,1388.6C723.8,1385.5 743.2,1381.6 759.9,1380.7C774.2,1379.9 786.3,1381.3 800.0,1382.0C814.3,1382.8 827.5,1383.7 843.8,1385.3C864.6,1387.3 895.7,1389.3 914.6,1393.9C927.8,1397.1 936.2,1401.0 947.3,1406.2C959.6,1412.0 972.7,1417.4 985.0,1427.5C1000.5,1440.2 1035.0,1466.1 1030.0,1480.0C1020.8,1505.5 877.5,1519.7 800.0,1520.0C720.9,1520.3 569.7,1506.1 560.0,1480.0Z" stroke="#000" stroke-width="3" fill="#fff"/>
<path d="M761.2,1300L761.2,1451C770,1460 790,1462.4 803,1462.4C816,1462.4 835,1460 841.5,1451L842.3,1300Z" stroke="none" stroke-width="0" fill="#fff"/>
<path d="M761.2,1300L761.2,1451C770,1460 790,1462.4 803,1462.4C816,1462.4 835,1460 841.5,1451L842.3,1300" stroke="#000" stroke-width="3" fill="none"/>
<path d="M484.7,1490L484.7,1564.0C487.0,1573.6 489.9,1579.0 495.3,1585.2C501.6,1592.3 511.5,1598.8 521.8,1602.9C533.5,1607.6 549.0,1608.7 562.3,1610.0C575.0,1611.3 590.9,1618.8 600.0,1611.0L615.0,1490.0Z" stroke="none" stroke-width="0" fill="#fff"/>
<path d="M484.7,1490L484.7,1564.0C487.0,1573.6 489.9,1579.0 495.3,1585.2C501.6,1592.3 511.5,1598.8 521.8,1602.9C533.5,1607.6 549.0,1608.7 562.3,1610.0C575.0,1611.3 590.9,1618.8 600.0,1611.0L615.0,1490.0" stroke="#000" stroke-width="3" fill="none"/>
<path d="M470.2,1484.8C469.4,1479.2 470.6,1472.6 472.2,1466.0C474.1,1458.1 476.8,1448.5 482.0,1441.0C487.8,1432.7 496.7,1424.1 506.7,1419.1C517.8,1413.6 533.6,1411.3 546.6,1411.2C559.0,1411.0 572.5,1413.6 582.9,1417.5C591.7,1420.9 599.5,1425.9 605.6,1431.5C611.1,1436.7 615.7,1442.9 618.5,1449.3C621.2,1455.3 622.8,1461.9 622.3,1468.6C621.8,1476.1 619.0,1484.9 614.3,1492.1C608.8,1500.4 599.6,1509.4 589.7,1514.5C579.0,1520.0 564.2,1522.3 551.5,1522.7C539.0,1523.2 525.2,1520.3 514.2,1517.4C504.9,1514.9 496.2,1511.5 489.4,1507.6C484.0,1504.5 479.1,1501.4 475.9,1497.3C473.0,1493.6 471.0,1489.5 470.2,1484.8Z" stroke="#000" stroke-width="3" fill="#fff"/>
<path d="M587.0,1445.9C591.7,1448.8 597.2,1450.9 601.1,1454.7C605.1,1458.5 607.6,1464.1 610.8,1468.8" stroke="#000" stroke-width="2.4" fill="none"/>
<path d="M1000,1490L1020.0,1596.0C1030.2,1603.9 1049.9,1595.0 1062.0,1593.0C1071.4,1591.4 1079.3,1590.4 1086.6,1586.4C1094.1,1582.3 1101.8,1575.6 1106.2,1568.4C1110.5,1561.4 1111.5,1553.7 1112.8,1543.8L1112.8,1490.0Z" stroke="none" stroke-width="0" fill="#fff"/>
<path d="M1000,1490L1020.0,1596.0C1030.2,1603.9 1049.9,1595.0 1062.0,1593.0C1071.4,1591.4 1079.3,1590.4 1086.6,1586.4C1094.1,1582.3 1101.8,1575.6 1106.2,1568.4C1110.5,1561.4 1111.5,1553.7 1112.8,1543.8L1112.8,1490.0" stroke="#000" stroke-width="3" fill="none"/>
<path d="M976.1,1459.2C973.7,1450.8 976.0,1440.5 980.4,1433.2C985.3,1425.2 996.0,1418.9 1005.9,1414.2C1016.9,1408.9 1031.1,1404.8 1044.1,1404.1C1057.4,1403.3 1072.4,1405.2 1084.8,1409.8C1097.0,1414.3 1110.1,1422.3 1118.1,1431.1C1125.1,1438.7 1130.8,1449.1 1132.0,1457.7C1133.0,1464.8 1131.0,1472.7 1127.7,1478.4C1124.6,1483.8 1119.3,1487.9 1113.4,1491.4C1106.4,1495.7 1097.3,1498.8 1087.5,1500.9C1075.8,1503.5 1061.0,1505.7 1047.3,1504.0C1032.4,1502.1 1014.0,1496.7 1001.8,1488.6C990.8,1481.2 979.0,1469.4 976.1,1459.2Z" stroke="#000" stroke-width="3" fill="#fff"/>
<path d="M561.4,1540L561.4,1617.0C563.2,1625.2 564.8,1629.0 569.4,1634.7C576.0,1642.8 588.5,1651.9 601.1,1657.6C616.0,1664.4 637.1,1668.7 654.1,1670.0C669.4,1671.1 685.3,1668.9 698.2,1666.4C708.8,1664.3 718.4,1662.3 726.4,1657.6C733.8,1653.2 741.0,1649.4 745.0,1640.0L745.0,1550.0Z" stroke="none" stroke-width="0" fill="#fff"/>
<path d="M561.4,1540L561.4,1617.0C563.2,1625.2 564.8,1629.0 569.4,1634.7C576.0,1642.8 588.5,1651.9 601.1,1657.6C616.0,1664.4 637.1,1668.7 654.1,1670.0C669.4,1671.1 685.3,1668.9 698.2,1666.4C708.8,1664.3 718.4,1662.3 726.4,1657.6C733.8,1653.2 741.0,1649.4 745.0,1640.0L745.0,1550.0" stroke="#000" stroke-width="3" fill="none"/>
<path d="M553.3,1522.5C553.9,1516.3 555.6,1508.8 558.9,1502.7C562.4,1496.2 568.0,1489.7 574.6,1484.9C581.9,1479.7 591.8,1476.2 601.5,1473.6C612.0,1470.7 624.2,1469.1 635.8,1469.1C647.8,1469.1 660.6,1470.9 672.4,1474.1C684.2,1477.2 696.5,1482.2 706.7,1488.0C716.2,1493.5 725.9,1500.0 731.9,1507.6C737.1,1514.4 741.5,1523.0 741.8,1530.4C742.1,1537.4 739.0,1545.3 734.8,1551.0C730.3,1556.9 722.6,1561.1 715.3,1565.0C707.3,1569.2 698.0,1572.3 688.4,1574.7C678.0,1577.2 666.3,1579.0 654.8,1579.0C642.8,1579.0 629.8,1577.1 617.9,1574.3C606.2,1571.6 594.0,1567.4 584.2,1562.8C576.0,1559.1 567.8,1554.9 562.7,1550.1C558.8,1546.4 556.1,1542.4 554.5,1537.9C552.9,1533.2 552.8,1527.9 553.3,1522.5Z" stroke="#000" stroke-width="3" fill="#fff"/>
<path d="M914.6,1545L914.6,1650.3C923.0,1660.1 941.2,1656.5 955.5,1656.9C971.1,1657.4 990.2,1655.6 1004.7,1652.0C1017.0,1649.0 1029.0,1645.2 1037.4,1638.8C1044.8,1633.2 1050.0,1625.9 1053.8,1617.5C1058.0,1608.2 1059.0,1596.3 1060.4,1584.8L1062.0,1545.0Z" stroke="none" stroke-width="0" fill="#fff"/>
<path d="M914.6,1545L914.6,1650.3C923.0,1660.1 941.2,1656.5 955.5,1656.9C971.1,1657.4 990.2,1655.6 1004.7,1652.0C1017.0,1649.0 1029.0,1645.2 1037.4,1638.8C1044.8,1633.2 1050.0,1625.9 1053.8,1617.5C1058.0,1608.2 1059.0,1596.3 1060.4,1584.8L1062.0,1545.0" stroke="#000" stroke-width="3" fill="none"/>
<path d="M904.0,1511.5C905.6,1503.7 908.5,1496.4 913.9,1490.3C920.4,1483.1 931.4,1477.6 942.1,1472.8C954.5,1467.3 970.7,1462.0 984.7,1460.3C997.7,1458.8 1011.5,1459.1 1023.2,1462.1C1033.9,1464.8 1044.4,1470.2 1052.6,1476.1C1059.9,1481.4 1066.6,1488.1 1070.6,1494.9C1074.0,1500.8 1075.7,1507.7 1076.2,1513.9C1076.7,1519.7 1076.5,1525.9 1074.3,1531.0C1072.0,1536.4 1067.3,1541.2 1062.1,1545.2C1056.2,1549.9 1047.8,1553.3 1039.8,1556.6C1031.0,1560.1 1021.9,1563.2 1011.4,1565.2C999.0,1567.6 983.9,1569.2 969.9,1568.6C955.5,1568.0 937.4,1567.2 926.1,1561.3C916.8,1556.3 908.5,1547.7 904.9,1539.1C901.5,1531.0 902.3,1519.9 904.0,1511.5Z" stroke="#000" stroke-width="3" fill="#fff"/>
<path d="M726.5,1565L726.5,1659.0C730.7,1668.2 737.9,1671.3 745.4,1675.7C753.9,1680.7 764.5,1683.8 775.6,1686.3C788.4,1689.2 803.4,1690.9 818.0,1690.8C833.6,1690.6 852.5,1688.9 866.4,1684.7C878.0,1681.2 888.5,1675.7 896.6,1669.6C903.5,1664.4 909.7,1659.6 913.2,1651.5C917.8,1640.9 916.3,1623.4 916.3,1609.1L913.2,1565.0Z" stroke="none" stroke-width="0" fill="#fff"/>
<path d="M726.5,1565L726.5,1659.0C730.7,1668.2 737.9,1671.3 745.4,1675.7C753.9,1680.7 764.5,1683.8 775.6,1686.3C788.4,1689.2 803.4,1690.9 818.0,1690.8C833.6,1690.6 852.5,1688.9 866.4,1684.7C878.0,1681.2 888.5,1675.7 896.6,1669.6C903.5,1664.4 909.7,1659.6 913.2,1651.5C917.8,1640.9 916.3,1623.4 916.3,1609.1L913.2,1565.0" stroke="#000" stroke-width="3" fill="none"/>
<path d="M718.0,1562.4C716.5,1556.6 717.9,1548.2 720.6,1541.0C723.8,1532.2 730.3,1521.7 738.6,1514.3C748.1,1505.7 762.5,1498.8 776.2,1494.2C790.8,1489.3 808.2,1486.9 823.8,1486.7C838.9,1486.5 854.6,1488.4 868.1,1492.5C880.7,1496.3 893.8,1501.9 902.6,1509.4C910.5,1516.1 916.8,1525.3 919.9,1533.9C922.7,1541.6 923.6,1550.9 921.9,1557.9C920.2,1564.4 916.5,1570.3 910.9,1575.0C903.7,1581.2 890.8,1584.7 879.6,1588.4C867.5,1592.4 853.1,1596.1 840.8,1597.8C829.9,1599.3 820.1,1599.7 809.6,1599.1C798.8,1598.4 787.4,1596.2 776.7,1593.6C766.1,1591.0 754.6,1587.4 745.7,1583.7C738.4,1580.7 731.5,1577.9 726.7,1573.9C722.7,1570.6 719.3,1567.1 718.0,1562.4Z" stroke="#000" stroke-width="3" fill="#fff"/>
<path d="M491.8,1484.7C491.9,1488.2 492.1,1491.8 492.0,1495.3C491.8,1498.8 491.2,1502.4 490.9,1505.9" stroke="#000" stroke-width="2.2" fill="none"/>
<path d="M565.9,1509.4C565.8,1515.0 565.9,1520.6 565.6,1526.2C565.3,1531.7 564.6,1537.3 564.1,1542.9" stroke="#000" stroke-width="2.2" fill="none"/>
<path d="M622.3,1530.6C622.2,1538.0 622.3,1545.3 622.0,1552.7C621.7,1560.0 621.0,1567.3 620.5,1574.7" stroke="#000" stroke-width="2.2" fill="none"/>
<path d="M652.3,1544.7C652.2,1550.0 652.3,1555.3 652.0,1560.6C651.7,1565.8 651.0,1571.1 650.5,1576.4" stroke="#000" stroke-width="2.2" fill="none"/>
<path d="M671.7,1544.7C671.6,1550.0 671.7,1555.3 671.5,1560.6C671.2,1565.8 670.5,1571.1 670.0,1576.4" stroke="#000" stroke-width="2.2" fill="none"/>
<path d="M734.8,1557.7C735.4,1560.7 736.1,1563.8 736.5,1566.8C736.9,1569.8 736.8,1572.9 737.0,1575.9" stroke="#000" stroke-width="2.2" fill="none"/>
<path d="M762.8,1552.4C762.2,1558.1 761.9,1563.7 761.1,1569.4C760.3,1575.1 759.2,1580.7 758.2,1586.4" stroke="#000" stroke-width="2.2" fill="none"/>
<path d="M816.4,1572.8C816.3,1576.8 816.5,1580.9 816.2,1584.9C816.0,1588.9 815.4,1593.0 814.9,1597.0" stroke="#000" stroke-width="2.2" fill="none"/>
<path d="M840.6,1569.8C839.8,1574.3 839.2,1578.9 838.2,1583.4C837.2,1588.0 835.8,1592.5 834.6,1597.0" stroke="#000" stroke-width="2.2" fill="none"/>
<path d="M873.9,1568.3C873.4,1572.1 873.0,1575.9 872.2,1579.7C871.5,1583.5 870.4,1587.2 869.4,1591.0" stroke="#000" stroke-width="2.2" fill="none"/>
<path d="M936.7,1534.0C937.0,1538.4 937.6,1542.7 937.7,1547.1C937.8,1551.5 937.6,1555.8 937.5,1560.2" stroke="#000" stroke-width="2.2" fill="none"/>
<path d="M971.9,1556.1C971.6,1558.0 971.4,1560.0 970.9,1561.8C970.3,1563.8 969.3,1565.7 968.6,1567.6" stroke="#000" stroke-width="2.2" fill="none"/>
<path d="M1011.2,1542.2C1010.6,1546.3 1010.2,1550.4 1009.4,1554.5C1008.5,1558.6 1007.3,1562.7 1006.3,1566.8" stroke="#000" stroke-width="2.2" fill="none"/>
<path d="M1039.1,1534.0C1039.0,1537.7 1039.1,1541.4 1038.8,1545.0C1038.6,1548.7 1037.9,1552.4 1037.4,1556.1" stroke="#000" stroke-width="2.2" fill="none"/>
<path d="M520.0,1495.0L519.0,1511.0" stroke="#888" stroke-width="1.4" fill="none"/>
<path d="M600.0,1560.0L600.0,1570.0" stroke="#999" stroke-width="1.4" fill="none"/>
<path d="M1105.0,1483.0L1112.0,1472.0" stroke="#999" stroke-width="1.4" fill="none"/>
<path d="M518.5,925.8C520.0,907.0 520.0,887.8 522.9,869.4C525.7,851.3 530.3,833.9 535.3,816.4C540.3,798.6 546.8,780.2 552.9,763.5C558.6,748.0 563.8,733.0 570.6,719.4C576.9,706.7 584.4,693.5 591.7,684.1C597.4,676.8 602.6,670.9 609.4,666.5C616.1,662.1 623.2,659.4 632.3,657.6C644.4,655.2 659.8,657.2 676.4,656.8C697.9,656.3 725.8,655.6 750.5,655.0" stroke="#000" stroke-width="2.2" fill="none"/>
<path d="M732.9,649.7 L750.5,655.0 L736.4,668.2" stroke="#000" stroke-width="2.2" fill="none"/>
<path d="M656.2,912.9C668.0,913.8 679.4,914.0 691.6,915.6C705.0,917.3 720.8,920.3 733.2,923.3C743.4,925.8 751.7,928.4 760.9,931.6C770.2,934.9 779.5,938.2 788.6,942.7C798.0,947.4 807.5,953.0 816.4,959.3C825.6,965.8 836.2,973.9 842.7,981.5C847.8,987.5 851.3,993.7 853.8,1000.0C856.1,1005.7 857.1,1011.1 857.9,1017.3C858.8,1024.2 857.9,1031.7 858.8,1039.4C859.8,1047.9 861.1,1057.3 864.1,1065.9C867.2,1074.9 872.1,1084.1 877.3,1092.3C882.4,1100.3 889.2,1108.6 895.0,1114.4C899.5,1118.9 903.1,1122.3 908.2,1125.0C913.8,1128.0 921.1,1129.1 927.6,1131.1" stroke="#000" stroke-width="2.2" fill="none"/>
<path d="M674.3,903.6 L656.2,912.9 L674.3,923.3" stroke="#000" stroke-width="2.2" fill="none"/>
<path d="M1050,1133.3L1178,1133.4C1236,1133.4 1307.4,1317.6 1307.4,1543.6" stroke="#000" stroke-width="2.4" fill="none"/>
<path d="M1068.3,1123.3 L1050.0,1133.3 L1068.3,1143.3" stroke="#000" stroke-width="2.2" fill="none"/>
</svg>
<div class="t" style="left:758.4px;top:234.1px;font-size:33px;letter-spacing:1.6px;transform:scaleX(0.94);transform-origin:0 0;">39</div>
<div class="t" style="left:805.9px;top:234.1px;font-size:33px;letter-spacing:1.6px;transform:scaleX(0.94);transform-origin:0 0;">in</div>
<div class="t" style="left:191.3px;top:950.0px;font-size:33px;letter-spacing:1.6px;transform:scaleX(0.94);transform-origin:0 0;">60</div>
<div class="t" style="left:237.5px;top:950.0px;font-size:33px;letter-spacing:1.6px;transform:scaleX(0.94);transform-origin:0 0;">in</div>
<div class="t" style="left:770.1px;top:1774.9px;font-size:33px;letter-spacing:1.6px;transform:scaleX(0.94);transform-origin:0 0;">35</div>
<div class="t" style="left:816.4px;top:1774.9px;font-size:33px;letter-spacing:1.6px;transform:scaleX(0.94);transform-origin:0 0;">in</div>
<div class="t" style="left:450.4px;top:772.9px;font-size:33px;letter-spacing:1.6px;transform:scaleX(0.94);transform-origin:0 0;">14</div>
<div class="t" style="left:495.9px;top:772.9px;font-size:33px;letter-spacing:1.6px;transform:scaleX(0.94);transform-origin:0 0;">in</div>
<div class="t" style="left:800.7px;top:920.2px;font-size:33px;letter-spacing:1.6px;transform:scaleX(0.94);transform-origin:0 0;">12</div>
<div class="t" style="left:845.9px;top:920.2px;font-size:33px;letter-spacing:1.6px;transform:scaleX(0.94);transform-origin:0 0;">in</div>
<div class="t" style="left:1273.4px;top:1224.1px;font-size:33px;letter-spacing:1.6px;transform:scaleX(0.94);transform-origin:0 0;">20</div>
<div class="t" style="left:1319.7px;top:1224.1px;font-size:33px;letter-spacing:1.6px;transform:scaleX(0.94);transform-origin:0 0;">in</div>

</body></html>
